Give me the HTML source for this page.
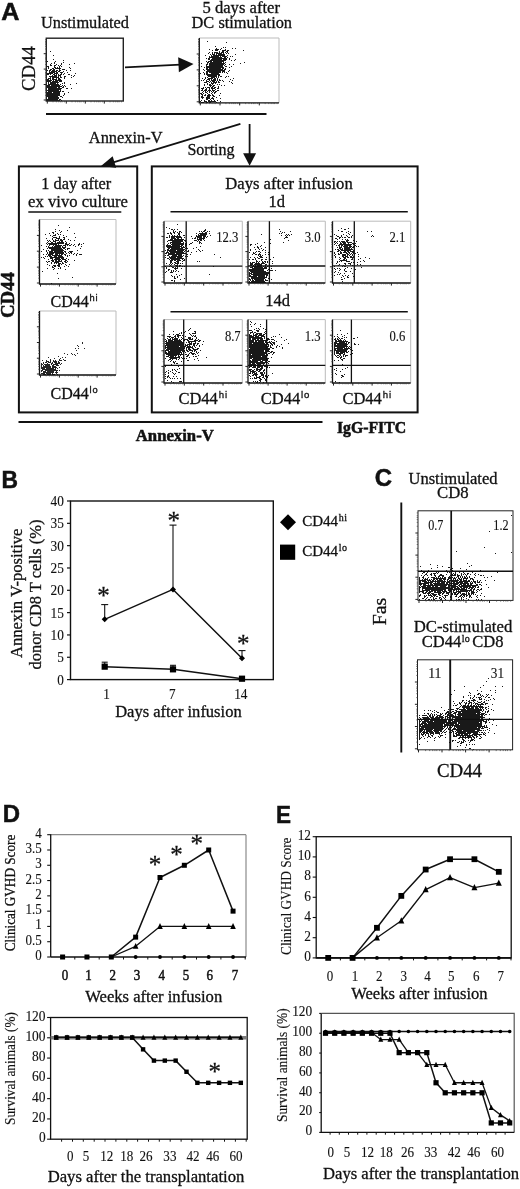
<!DOCTYPE html>
<html lang="en"><head><meta charset="utf-8"><title>Figure</title>
<style>
html,body{margin:0;padding:0;background:#fff}
svg{display:block}
text{font-family:'Liberation Serif', serif;fill:#111;stroke:#111}
text.s{font-family:'Liberation Sans', sans-serif}
tspan.s{font-family:'Liberation Sans', sans-serif}
</style></head><body>
<svg width="520" height="1189" viewBox="0 0 520 1189">
<rect width="520" height="1189" fill="#fff"/>
<g stroke-width="0.3">
<!-- Panel A -->
<text x="1.2" y="20.1" font-size="24" font-weight="bold" stroke-width="0.5" class="s" textLength="18.2" lengthAdjust="spacingAndGlyphs">A</text>
<text x="41" y="27.5" font-size="16.5" textLength="88" lengthAdjust="spacingAndGlyphs">Unstimulated</text>
<text x="241.2" y="13.3" font-size="16.5" text-anchor="middle" textLength="77.5" lengthAdjust="spacingAndGlyphs">5 days after</text>
<text x="241.8" y="27.6" font-size="16.5" text-anchor="middle" textLength="100.5" lengthAdjust="spacingAndGlyphs">DC stimulation</text>
<text x="35" y="68.5" font-size="19" text-anchor="middle" textLength="45" lengthAdjust="spacingAndGlyphs" transform="rotate(-90 35 68.5)">CD44</text>
<path d="M57 84h1M53 98h1M49 93h1M49 100h1M53 90h1M50 93h1M53 100h1M54 79h1M53 94h1M57 92h1M56 95h1M54 87h1M55 92h1M49 90h1M53 89h1M54 86h1M53 92h1M55 100h1M51 96h1M59 94h1M55 89h1M52 100h1M51 89h1M48 96h1M54 99h1M55 86h1M51 100h1M50 94h1M52 93h1M58 90h1M57 94h1M51 91h1M47 93h1M50 96h1M52 85h1M53 93h1M49 99h1M51 82h1M55 97h1M53 96h1M50 97h1M57 100h1M48 93h1M52 95h1M56 88h1M52 91h1M55 87h1M54 89h1M52 99h1M51 87h1M56 92h1M58 85h1M51 93h1M48 100h1M56 85h1M54 77h1M54 100h1M54 84h1M49 88h1M51 85h1M55 91h1M59 95h1M50 80h1M53 99h1M56 100h1M52 82h1M48 95h1M57 88h1M52 86h1M50 82h1M54 88h1M52 89h1M50 100h1M53 83h1M55 95h1M55 88h1M49 81h1M51 88h1M53 82h1M56 90h1M48 97h1M51 95h1M56 98h1M56 96h1M52 83h1M56 93h1M54 91h1M59 85h1M48 82h1M57 86h1M53 88h1M52 98h1M51 94h1M48 90h1M52 96h1M57 95h1M49 87h1M59 89h1M51 97h1M53 91h1M52 94h1M57 89h1M51 83h1M48 92h1M52 90h1M48 91h1M56 89h1M54 95h1M54 94h1M50 81h1M48 94h1M54 82h1M55 98h1M50 90h1M51 98h1M55 90h1M54 98h1M49 94h1M57 97h1M55 82h1M57 91h1M56 84h1M55 96h1M51 99h1M48 85h1M47 85h1M54 85h1M53 95h1M57 77h1M60 90h1M48 98h1M48 88h1M55 84h1M55 93h1M58 89h1M50 91h1M57 93h1M47 86h1M47 92h1M49 97h1M55 85h1M56 91h1M51 90h1M48 99h1M56 94h1M55 99h1M57 99h1M50 99h1M58 97h1M49 96h1M47 96h1M47 94h1M49 92h1M56 99h1M61 96h1M48 80h1M48 89h1M53 97h1M57 98h1M56 86h1M49 85h1M47 100h1M58 86h1M54 93h1M54 92h1M60 88h1M49 98h1M55 81h1M62 85h1M59 86h1M51 92h1M57 85h1M57 96h1M47 95h1M58 94h1M56 82h1M54 96h1M50 95h1M58 100h1M57 82h1M61 86h1M48 83h1M47 99h1M50 89h1M54 90h1M50 98h1M60 99h1M56 97h1M58 92h1M53 85h1M49 86h1M57 83h1M59 100h1M50 92h1M52 81h1M58 95h1M55 94h1M49 95h1M48 81h1M48 87h1M61 100h1M54 97h1M52 84h1M50 88h1M50 86h1M49 89h1M59 87h1M58 98h1M58 91h1M49 78h1M52 76h1M59 93h1M58 93h1M50 84h1M60 86h1M47 87h1M53 87h1M48 86h1M52 78h1M49 84h1M50 87h1M58 87h1M50 83h1M58 84h1M52 97h1M48 84h1M59 88h1M47 90h1M51 86h1M59 91h1M56 80h1M60 91h1M57 81h1M61 88h1M54 69h1M61 80h1M60 72h1M59 78h1M55 73h1M49 72h1M55 75h1M52 88h1M53 81h1M49 91h1M58 77h1M48 78h1M59 71h1M55 76h1M56 68h1M60 65h1M54 81h1M50 72h1M50 77h1M52 77h1M55 67h1M53 71h1M58 68h1M64 83h1M51 80h1M53 79h1M53 74h1M63 91h1M56 64h1M64 82h1M47 66h1M52 71h1M51 69h1M57 80h1M58 75h1M47 81h1M47 74h1M58 74h1M64 93h1M60 75h1M59 80h1M54 74h1M52 73h1M54 75h1M55 83h1M59 67h1M55 79h1M53 72h1M56 77h1M54 73h1M54 71h1M51 73h1M50 74h1M54 63h1M60 96h1M61 74h1M62 91h1M50 79h1M56 70h1M57 73h1M59 75h1M54 67h1M58 65h1M52 72h1M59 66h1M53 78h1M57 70h1M53 68h1M50 64h1M48 79h1M51 76h1M63 74h1M56 78h1M48 66h1M56 76h1M52 70h1M58 88h1M48 73h1M53 84h1M61 77h1M57 72h1M50 78h1M58 78h1M58 79h1M55 68h1M53 77h1M61 81h1M52 68h1M50 70h1M57 68h1M54 65h1M60 89h1M60 76h1M56 72h1M59 99h1M49 76h1M50 51h1M53 76h1M56 73h1M54 72h1M62 87h1M59 69h1M52 79h1M54 76h1M58 82h1M57 67h1M56 87h1M56 75h1M60 80h1M49 80h1M52 75h1M55 71h1M52 87h1M53 69h1M54 66h1M63 86h1M56 81h1M50 73h1M53 86h1M48 68h1M47 80h1M48 74h1M56 74h1M64 85h1M54 70h1M51 71h1M58 80h1M50 65h1M48 67h1M60 81h1M47 79h1M55 65h1M59 70h1M58 71h1M59 92h1M68 92h1M53 80h1M57 90h1M55 61h1M51 72h1M53 55h1M63 62h1M56 71h1M51 63h1M62 97h1M54 83h1M49 70h1M56 79h1M51 65h1M50 69h1M51 84h1M54 62h1M53 59h1M60 79h1M53 70h1M60 68h1M55 77h1M50 76h1M61 64h1M64 94h1M60 84h1M60 70h1M49 73h1M47 61h1M55 80h1M65 86h1M67 88h1M49 71h1M64 77h1M71 77h1M71 75h1M74 63h1M69 67h1M70 70h1M47 73h1M62 83h1M58 76h1M63 95h1M61 72h1M70 68h1M64 76h1M64 73h1M67 72h1M64 78h1M61 63h1M59 81h1M74 75h1M59 68h1M69 74h1M70 84h1M64 69h1M63 69h1M75 73h1M63 71h1M73 76h1M71 88h1M60 77h1M62 69h1M63 87h1M61 66h1M59 79h1M60 74h1M66 88h1M68 74h1M63 60h1M62 72h1M65 76h1M66 70h1M76 83h1M61 73h1M69 64h1M47 70h1" stroke="#000" stroke-width="1" stroke-opacity="0.9" fill="none" shape-rendering="crispEdges"/>
<rect x="46.3" y="38.2" width="77.0" height="62.8" fill="none" stroke="#222" stroke-width="1.4"/>
<path d="M47.3 101v2.6M46.3 100.0h-2.6M66.3 101v2.6M46.3 84.5h-2.6M85.3 101v2.6M46.3 69.1h-2.6M104.3 101v2.6M46.3 53.7h-2.6" stroke="#222" stroke-width="1" fill="none"/>
<path d="M53.0 101v1.3M46.3 95.3h-1.3M56.4 101v1.3M46.3 92.6h-1.3M58.7 101v1.3M46.3 90.7h-1.3M60.6 101v1.3M46.3 89.2h-1.3M62.1 101v1.3M46.3 88.0h-1.3M64.5 101v1.3M46.3 86.0h-1.3M72.0 101v1.3M46.3 79.9h-1.3M75.4 101v1.3M46.3 77.2h-1.3M77.7 101v1.3M46.3 75.2h-1.3M79.6 101v1.3M46.3 73.8h-1.3M81.1 101v1.3M46.3 72.5h-1.3M83.5 101v1.3M46.3 70.6h-1.3M91.0 101v1.3M46.3 64.4h-1.3M94.4 101v1.3M46.3 61.7h-1.3M96.7 101v1.3M46.3 59.8h-1.3M98.6 101v1.3M46.3 58.3h-1.3M100.1 101v1.3M46.3 57.1h-1.3M102.5 101v1.3M46.3 55.1h-1.3M110.0 101v1.3M46.3 49.0h-1.3M113.4 101v1.3M46.3 46.3h-1.3M115.7 101v1.3M46.3 44.3h-1.3M117.6 101v1.3M46.3 42.9h-1.3M119.1 101v1.3M46.3 41.6h-1.3M121.5 101v1.3M46.3 39.7h-1.3" stroke="#444" stroke-width="0.7" fill="none"/>
<path d="M225 64h1M217 63h1M219 71h1M214 70h1M211 72h1M213 67h1M211 63h1M213 85h1M220 64h1M212 64h1M216 64h1M212 65h1M209 58h1M210 68h1M215 63h1M214 62h1M200 73h1M213 57h1M211 68h1M206 68h1M208 78h1M225 56h1M215 64h1M208 75h1M217 78h1M216 76h1M215 72h1M222 56h1M212 78h1M211 67h1M210 66h1M219 64h1M213 61h1M213 56h1M214 73h1M215 69h1M218 77h1M215 66h1M214 61h1M209 64h1M214 65h1M214 68h1M224 54h1M219 60h1M213 62h1M224 69h1M218 57h1M216 60h1M221 48h1M221 52h1M216 59h1M216 63h1M221 63h1M215 59h1M216 72h1M211 62h1M208 59h1M211 60h1M210 71h1M216 67h1M212 60h1M218 61h1M213 69h1M215 60h1M213 58h1M216 57h1M219 80h1M215 46h1M220 62h1M221 70h1M212 72h1M218 62h1M215 67h1M216 65h1M212 63h1M218 70h1M215 68h1M221 59h1M224 50h1M214 72h1M217 65h1M215 71h1M217 62h1M211 80h1M214 69h1M213 59h1M215 55h1M217 58h1M210 60h1M216 70h1M221 57h1M217 74h1M223 52h1M221 67h1M218 63h1M211 64h1M217 53h1M219 72h1M207 69h1M214 71h1M209 68h1M219 61h1M212 73h1M214 54h1M213 55h1M212 67h1M218 68h1M216 73h1M218 56h1M213 64h1M214 78h1M227 55h1M216 49h1M207 70h1M213 66h1M218 67h1M210 74h1M219 53h1M218 64h1M211 55h1M214 66h1M216 75h1M210 63h1M220 68h1M216 68h1M206 71h1M211 61h1M209 66h1M207 67h1M221 69h1M219 54h1M214 58h1M207 75h1M209 52h1M209 56h1M210 57h1M212 66h1M223 55h1M220 67h1M217 70h1M226 59h1M215 76h1M209 76h1M219 58h1M222 60h1M211 71h1M209 65h1M219 68h1M216 56h1M216 58h1M214 76h1M218 66h1M216 62h1M209 71h1M210 69h1M226 51h1M220 66h1M217 67h1M216 69h1M209 75h1M217 60h1M221 66h1M210 76h1M220 69h1M223 54h1M213 71h1M206 69h1M208 58h1M208 67h1M203 72h1M221 65h1M212 69h1M225 59h1M219 52h1M211 66h1M212 68h1M221 58h1M218 60h1M219 62h1M213 73h1M213 77h1M222 66h1M215 73h1M223 68h1M212 83h1M212 54h1M217 66h1M215 49h1M223 67h1M207 64h1M214 56h1M214 52h1M220 65h1M214 67h1M224 57h1M207 63h1M217 59h1M208 69h1M218 69h1M217 72h1M220 59h1M210 72h1M203 69h1M222 64h1M209 59h1M218 71h1M211 56h1M217 69h1M225 47h1M216 61h1M223 62h1M212 59h1M212 71h1M218 65h1M212 62h1M219 59h1M214 64h1M220 60h1M213 72h1M211 59h1M212 53h1M219 65h1M214 60h1M206 65h1M218 49h1M218 54h1M218 58h1M218 74h1M211 69h1M210 70h1M209 67h1M214 74h1M207 62h1M219 55h1M219 66h1M221 76h1M218 55h1M220 72h1M209 61h1M222 52h1M216 54h1M217 52h1M223 56h1M213 63h1M215 65h1M219 69h1M215 79h1M209 63h1M220 58h1M218 53h1M216 55h1M217 68h1M222 50h1M223 53h1M213 65h1M222 69h1M222 70h1M217 71h1M213 80h1M212 81h1M212 84h1M215 62h1M206 73h1M213 60h1M220 49h1M208 61h1M211 70h1M223 70h1M212 70h1M215 70h1M222 51h1M212 74h1M210 64h1M218 72h1M207 83h1M216 66h1M210 65h1M220 57h1M209 74h1M223 58h1M220 76h1M220 61h1M221 53h1M222 58h1M218 75h1M215 57h1M217 61h1M220 70h1M212 58h1M221 60h1M221 64h1M213 54h1M213 70h1M216 53h1M211 75h1M218 59h1M215 52h1M213 75h1M214 77h1M214 55h1M215 61h1M206 61h1M219 63h1M213 68h1M217 57h1M220 56h1M222 71h1M214 59h1M210 54h1M222 55h1M216 52h1M219 67h1M209 69h1M210 62h1M222 63h1M215 56h1M204 67h1M216 50h1M223 51h1M219 70h1M212 56h1M215 74h1M205 78h1M207 66h1M219 51h1M204 70h1M212 75h1M222 67h1M209 70h1M211 74h1M206 58h1M221 55h1M207 68h1M219 57h1M206 67h1M215 50h1M222 68h1M212 57h1M221 61h1M209 78h1M217 64h1M206 74h1M218 73h1M225 58h1M217 79h1M224 63h1M220 63h1M217 55h1M224 59h1M227 50h1M208 62h1M224 65h1M226 66h1M222 61h1M220 71h1M215 58h1M210 67h1M214 63h1M211 57h1M207 74h1M213 76h1M221 54h1M206 81h1M207 72h1M208 71h1M222 65h1M223 60h1M225 57h1M217 73h1M213 74h1M209 57h1M211 65h1M206 72h1M215 75h1M225 66h1M216 81h1M214 53h1M224 60h1M215 78h1M221 62h1M207 73h1M216 71h1M216 74h1M213 79h1M224 70h1M210 61h1M214 75h1M223 63h1M217 56h1M214 57h1M212 52h1M206 64h1M220 55h1M208 66h1M206 82h1M213 91h1M215 89h1M216 77h1M214 88h1M213 99h1M216 91h1M204 73h1M209 95h1M209 72h1M202 92h1M209 90h1M211 82h1M208 76h1M219 79h1M204 85h1M204 82h1M210 86h1M215 101h1M219 82h1M207 96h1M213 86h1M202 102h1M215 92h1M217 84h1M211 91h1M215 82h1M211 79h1M207 71h1M212 87h1M205 82h1M211 83h1M211 73h1M213 82h1M208 95h1M211 76h1M218 87h1M214 82h1M210 78h1M214 79h1M210 85h1M209 85h1M207 81h1M214 80h1M212 92h1M207 79h1M212 94h1M201 93h1M211 87h1M202 88h1M203 88h1M202 96h1M211 88h1M209 79h1M201 66h1M208 70h1M214 85h1M208 90h1M205 87h1M220 98h1M206 66h1M202 90h1M211 78h1M209 102h1M212 80h1M202 94h1M215 91h1M202 97h1M221 85h1M208 79h1M208 101h1M208 74h1M203 97h1M210 81h1M209 94h1M211 85h1M213 83h1M212 90h1M209 84h1M208 87h1M206 80h1M213 88h1M209 88h1M220 80h1M219 74h1M206 90h1M204 90h1M208 81h1M201 102h1M209 89h1M213 96h1M215 87h1M219 75h1M217 88h1M211 77h1M214 81h1M212 95h1M202 89h1M210 84h1M217 80h1M214 87h1M207 98h1M205 95h1M206 89h1M212 86h1M204 74h1M210 101h1M210 95h1M209 87h1M212 97h1M204 79h1M218 86h1M209 80h1M213 81h1M209 97h1M207 84h1M216 82h1M207 87h1M202 78h1M217 90h1M224 85h1M215 80h1M212 76h1M212 88h1M206 88h1M209 92h1M215 83h1M201 80h1M203 80h1M218 88h1M209 82h1M201 88h1M219 84h1M210 90h1M218 82h1M218 81h1M205 90h1M214 90h1M218 76h1M204 84h1M205 77h1M207 77h1M212 77h1M214 96h1M218 90h1M212 89h1M229 59h1M232 48h1M223 59h1M232 80h1M235 54h1M217 50h1M217 49h1M230 56h1M227 51h1M225 69h1M227 73h1M224 55h1M226 56h1M228 53h1M226 76h1M229 67h1M229 58h1M225 49h1M232 56h1M233 78h1M244 62h1M222 80h1M224 58h1M230 79h1M216 48h1M223 50h1M228 50h1M223 81h1M225 68h1M225 62h1M209 49h1M224 56h1M212 50h1M205 55h1M225 77h1M234 60h1M231 82h1M231 66h1M226 42h1M240 63h1M227 57h1M223 71h1M232 83h1M225 60h1M235 59h1M220 53h1M222 72h1M222 54h1M226 53h1M227 52h1M229 81h1M207 41h1M224 72h1M223 61h1M229 70h1M220 54h1M223 47h1M243 50h1M201 63h1M210 75h1M228 71h1M233 64h1M208 53h1M231 60h1M226 58h1M223 64h1M225 52h1M228 76h1M226 72h1M224 71h1M235 48h1M225 50h1M229 64h1M208 96h1M211 98h1M206 102h1M209 101h1M209 96h1M210 99h1M220 93h1M206 92h1M208 94h1M205 92h1M207 97h1M209 98h1M213 98h1M212 98h1M202 95h1M205 101h1M207 102h1M204 101h1M211 100h1M211 93h1M207 99h1M216 102h1M214 100h1M217 100h1M209 91h1M214 101h1M212 101h1M208 100h1M207 95h1M214 92h1M201 100h1M206 97h1M201 97h1M211 101h1M208 97h1M219 95h1M203 91h1M200 101h1M206 101h1M216 97h1M206 98h1M201 90h1M220 101h1M204 95h1M200 93h1M203 87h1M203 93h1M213 95h1M203 102h1M209 100h1M207 93h1M201 94h1M214 93h1M205 89h1M206 99h1M202 98h1M201 96h1M204 100h1M205 94h1M205 91h1M207 91h1M210 102h1M213 101h1M208 98h1M213 90h1" stroke="#000" stroke-width="1" stroke-opacity="0.9" fill="none" shape-rendering="crispEdges"/>
<path d="M199.3 38H279V102.8" fill="none" stroke="#bbb" stroke-width="1.0"/>
<path d="M199.3 38V102.8H279" fill="none" stroke="#111" stroke-width="1.3"/>
<path d="M200.3 102.8v2.6M199.3 101.8h-2.6M220.0 102.8v2.6M199.3 85.8h-2.6M239.7 102.8v2.6M199.3 69.9h-2.6M259.3 102.8v2.6M199.3 54.0h-2.6" stroke="#222" stroke-width="1" fill="none"/>
<path d="M206.2 102.8v1.3M199.3 97.0h-1.3M209.7 102.8v1.3M199.3 94.2h-1.3M212.1 102.8v1.3M199.3 92.2h-1.3M214.1 102.8v1.3M199.3 90.7h-1.3M215.6 102.8v1.3M199.3 89.4h-1.3M218.1 102.8v1.3M199.3 87.4h-1.3M225.9 102.8v1.3M199.3 81.0h-1.3M229.4 102.8v1.3M199.3 78.2h-1.3M231.8 102.8v1.3M199.3 76.2h-1.3M233.7 102.8v1.3M199.3 74.7h-1.3M235.3 102.8v1.3M199.3 73.4h-1.3M237.7 102.8v1.3M199.3 71.4h-1.3M245.6 102.8v1.3M199.3 65.1h-1.3M249.0 102.8v1.3M199.3 62.3h-1.3M251.5 102.8v1.3M199.3 60.3h-1.3M253.4 102.8v1.3M199.3 58.8h-1.3M255.0 102.8v1.3M199.3 57.5h-1.3M257.4 102.8v1.3M199.3 55.5h-1.3M265.2 102.8v1.3M199.3 49.1h-1.3M268.7 102.8v1.3M199.3 46.3h-1.3M271.2 102.8v1.3M199.3 44.3h-1.3M273.1 102.8v1.3M199.3 42.8h-1.3M274.6 102.8v1.3M199.3 41.5h-1.3M277.1 102.8v1.3M199.3 39.5h-1.3" stroke="#444" stroke-width="0.7" fill="none"/>
<line x1="125" y1="67.3" x2="180.52" y2="64.63" stroke="#111" stroke-width="1.8"/>
<polygon points="193.5,64 178.88,72.21 178.16,57.23" fill="#111" stroke="none" stroke-width="1"/>
<line x1="46" y1="114" x2="266.5" y2="114" stroke="#111" stroke-width="1.8"/>
<line x1="240.4" y1="123.9" x2="112.49" y2="162.53" stroke="#111" stroke-width="1.8"/>
<polygon points="101,166 112.67,156.21 116.14,167.7" fill="#111" stroke="none" stroke-width="1"/>
<line x1="249.6" y1="124" x2="249.6" y2="155.3" stroke="#111" stroke-width="1.8"/>
<polygon points="249.6,165.8 243.1,153.3 256.1,153.3" fill="#111" stroke="none" stroke-width="1"/>
<text x="88.8" y="143.2" font-size="16.5" textLength="73.7" lengthAdjust="spacingAndGlyphs">Annexin-V</text>
<text x="187.4" y="155.2" font-size="16.5" textLength="47.2" lengthAdjust="spacingAndGlyphs">Sorting</text>
<rect x="18.9" y="166.4" width="118.3" height="246.0" fill="none" stroke="#111" stroke-width="2"/>
<rect x="151.8" y="166.4" width="265.8" height="246.0" fill="none" stroke="#111" stroke-width="2"/>
<text x="76.2" y="188.8" font-size="16.5" text-anchor="middle" textLength="69.8" lengthAdjust="spacingAndGlyphs">1 day after</text>
<text x="78" y="207" font-size="16.5" text-anchor="middle" textLength="99.8" lengthAdjust="spacingAndGlyphs">ex vivo culture</text>
<line x1="28.3" y1="212" x2="121.3" y2="212" stroke="#111" stroke-width="1.6"/>
<path d="M57 240h1M52 242h1M55 252h1M65 249h1M56 244h1M62 250h1M59 258h1M55 254h1M51 262h1M49 252h1M56 253h1M57 261h1M56 248h1M60 257h1M55 266h1M54 268h1M50 241h1M47 244h1M58 252h1M59 246h1M61 252h1M54 255h1M52 250h1M53 241h1M48 259h1M52 267h1M65 269h1M64 266h1M61 256h1M56 255h1M59 259h1M56 247h1M63 242h1M54 248h1M54 237h1M57 252h1M56 257h1M66 265h1M41 251h1M61 254h1M55 234h1M67 244h1M54 259h1M58 257h1M52 260h1M54 241h1M55 262h1M60 249h1M60 240h1M56 251h1M56 259h1M60 239h1M55 256h1M53 253h1M49 247h1M57 259h1M46 250h1M59 257h1M61 250h1M53 252h1M59 248h1M53 247h1M61 251h1M55 253h1M60 246h1M52 247h1M54 256h1M62 243h1M53 249h1M59 255h1M56 245h1M48 247h1M50 247h1M53 245h1M53 255h1M55 231h1M57 233h1M47 268h1M61 245h1M55 250h1M48 255h1M52 252h1M60 250h1M58 256h1M55 249h1M55 240h1M53 235h1M53 237h1M57 247h1M60 255h1M52 266h1M62 256h1M54 250h1M65 264h1M58 253h1M59 264h1M55 243h1M64 237h1M53 250h1M56 261h1M50 244h1M58 251h1M62 258h1M59 250h1M56 246h1M57 248h1M58 234h1M55 242h1M59 253h1M54 247h1M60 243h1M52 246h1M58 258h1M61 248h1M51 257h1M58 262h1M60 256h1M57 262h1M59 265h1M61 243h1M55 239h1M52 251h1M62 240h1M62 259h1M50 251h1M51 242h1M57 250h1M55 247h1M58 246h1M55 235h1M58 239h1M62 257h1M49 240h1M51 251h1M46 243h1M58 264h1M63 250h1M52 255h1M60 242h1M59 242h1M56 250h1M49 254h1M52 261h1M57 246h1M61 242h1M54 262h1M60 247h1M62 252h1M46 254h1M63 263h1M61 255h1M57 258h1M63 235h1M67 261h1M57 265h1M51 263h1M57 245h1M45 256h1M57 249h1M64 259h1M46 246h1M60 245h1M63 239h1M49 251h1M66 253h1M55 237h1M61 261h1M53 243h1M59 247h1M62 242h1M56 252h1M63 237h1M63 247h1M55 248h1M49 253h1M63 258h1M64 238h1M50 255h1M55 257h1M51 243h1M65 252h1M55 246h1M59 238h1M51 250h1M56 256h1M56 249h1M52 254h1M60 263h1M55 259h1M63 245h1M58 248h1M49 248h1M59 261h1M50 254h1M58 260h1M55 244h1M48 243h1M55 260h1M55 265h1M47 253h1M53 244h1M53 260h1M52 236h1M57 255h1M52 259h1M62 241h1M58 255h1M53 269h1M50 243h1M58 250h1M58 268h1M54 257h1M65 251h1M54 243h1M52 239h1M52 244h1M51 248h1M58 245h1M61 253h1M51 260h1M60 253h1M52 243h1M52 257h1M55 245h1M59 254h1M59 230h1M58 249h1M53 248h1M51 252h1M58 259h1M46 251h1M55 241h1M47 248h1M56 254h1M62 247h1M65 244h1M59 256h1M62 246h1M55 251h1M49 245h1M55 255h1M59 252h1M50 252h1M56 263h1M65 260h1M49 244h1M53 240h1M56 240h1M58 243h1M62 251h1M68 248h1M62 262h1M60 261h1M55 229h1M66 242h1M65 259h1M52 249h1M47 256h1M62 254h1M61 241h1M59 251h1M52 248h1M53 233h1M47 264h1M50 258h1M52 232h1M67 249h1M53 261h1M56 237h1M61 257h1M57 242h1M63 257h1M45 234h1M61 260h1M56 260h1M63 252h1M61 239h1M56 243h1M57 257h1M58 240h1M58 244h1M65 255h1M58 242h1M52 238h1M59 249h1M49 265h1M49 243h1M48 246h1M51 258h1M59 260h1M44 258h1M62 263h1M47 252h1M57 254h1M47 240h1M60 234h1M50 253h1M54 246h1M55 261h1M62 253h1M60 232h1M69 245h1M58 263h1M68 244h1M68 239h1M64 239h1M69 255h1M54 244h1M64 248h1M58 261h1M64 245h1M58 225h1M51 244h1M56 262h1M65 262h1M57 251h1M63 248h1M58 247h1M54 265h1M51 247h1M54 235h1M57 243h1M43 254h1M55 258h1M61 231h1M69 251h1M59 263h1M68 259h1M58 266h1M50 235h1M60 267h1M65 254h1M59 266h1M60 252h1M52 253h1M54 263h1M54 252h1M53 267h1M59 245h1M54 251h1M61 258h1M56 258h1M57 238h1M43 249h1M51 254h1M61 264h1M61 240h1M58 265h1M56 238h1M66 243h1M47 242h1M51 249h1M65 247h1M65 246h1M54 249h1M59 241h1M62 249h1M60 251h1M60 259h1M48 261h1M76 255h1M42 271h1M66 244h1M64 261h1M43 257h1M50 248h1M46 261h1M60 248h1M53 232h1M66 260h1M74 253h1M71 251h1M48 250h1M59 237h1M51 256h1M67 248h1M41 257h1M65 261h1M67 256h1M63 253h1M50 257h1M73 254h1M57 273h1M69 243h1M41 245h1M71 244h1M69 253h1M68 266h1M70 252h1M49 256h1M53 265h1M69 248h1M72 277h1M48 254h1M60 268h1M77 253h1M54 266h1M51 283h1M66 258h1M50 256h1M67 245h1M63 259h1M47 262h1M57 253h1M61 249h1M49 233h1M69 264h1M53 257h1M58 278h1M81 244h1M59 243h1M59 236h1M46 238h1M67 255h1M65 243h1M67 230h1M69 227h1M64 251h1M49 255h1M58 238h1M63 243h1M49 261h1M64 254h1M71 253h1M68 252h1M66 262h1M48 241h1M65 245h1M64 247h1M52 258h1M66 236h1M51 253h1M81 254h1M70 240h1M80 254h1M76 254h1M75 246h1M79 254h1M70 245h1M74 240h1M71 252h1M65 241h1M81 246h1M74 260h1M70 251h1M83 243h1M73 245h1M78 245h1M72 251h1M79 244h1M74 233h1M77 250h1M79 243h1M75 237h1M80 248h1M78 244h1M74 244h1" stroke="#000" stroke-width="1" stroke-opacity="0.9" fill="none" shape-rendering="crispEdges"/>
<path d="M39.5 219.5H116V284" fill="none" stroke="#bbb" stroke-width="1.0"/>
<path d="M39.5 219.5V284H116" fill="none" stroke="#111" stroke-width="1.3"/>
<path d="M40.5 284v2.6M39.5 283.0h-2.6M59.4 284v2.6M39.5 267.1h-2.6M78.2 284v2.6M39.5 251.2h-2.6M97.1 284v2.6M39.5 235.4h-2.6" stroke="#222" stroke-width="1" fill="none"/>
<path d="M46.2 284v1.3M39.5 278.2h-1.3M49.5 284v1.3M39.5 275.4h-1.3M51.9 284v1.3M39.5 273.4h-1.3M53.7 284v1.3M39.5 271.9h-1.3M55.2 284v1.3M39.5 270.6h-1.3M57.5 284v1.3M39.5 268.7h-1.3M65.1 284v1.3M39.5 262.3h-1.3M68.4 284v1.3M39.5 259.6h-1.3M70.7 284v1.3M39.5 257.6h-1.3M72.6 284v1.3M39.5 256.0h-1.3M74.1 284v1.3M39.5 254.8h-1.3M76.4 284v1.3M39.5 252.8h-1.3M83.9 284v1.3M39.5 246.5h-1.3M87.3 284v1.3M39.5 243.7h-1.3M89.6 284v1.3M39.5 241.7h-1.3M91.4 284v1.3M39.5 240.2h-1.3M92.9 284v1.3M39.5 238.9h-1.3M95.3 284v1.3M39.5 236.9h-1.3M102.8 284v1.3M39.5 230.6h-1.3M106.1 284v1.3M39.5 227.8h-1.3M108.5 284v1.3M39.5 225.8h-1.3M110.3 284v1.3M39.5 224.3h-1.3M111.8 284v1.3M39.5 223.0h-1.3M114.2 284v1.3M39.5 221.0h-1.3" stroke="#444" stroke-width="0.7" fill="none"/>
<text x="74.5" y="306.5" font-size="16" text-anchor="middle">CD44<tspan class="s" font-size="9.3" dx="0.8" dy="-5.4" letter-spacing="0.9">hi</tspan></text>
<path d="M48 367h1M46 367h1M52 367h1M55 372h1M48 371h1M45 369h1M49 367h1M50 361h1M52 374h1M49 371h1M46 364h1M47 374h1M47 372h1M44 371h1M48 370h1M48 362h1M45 371h1M47 365h1M45 364h1M43 372h1M45 367h1M51 368h1M47 364h1M50 369h1M53 372h1M49 366h1M49 370h1M45 372h1M53 370h1M53 367h1M47 366h1M49 368h1M42 368h1M52 363h1M50 362h1M42 369h1M41 366h1M55 370h1M41 364h1M43 369h1M51 370h1M49 373h1M48 368h1M50 368h1M49 372h1M52 369h1M47 370h1M48 357h1M52 366h1M53 369h1M48 365h1M52 368h1M48 361h1M50 372h1M48 366h1M49 362h1M53 371h1M50 374h1M46 368h1M56 373h1M50 373h1M44 373h1M47 361h1M59 370h1M47 369h1M50 370h1M54 369h1M44 372h1M48 374h1M41 365h1M44 367h1M46 370h1M43 373h1M48 372h1M45 365h1M44 366h1M43 362h1M46 372h1M47 368h1M44 368h1M52 365h1M45 374h1M45 362h1M52 362h1M41 370h1M53 374h1M56 372h1M54 364h1M47 371h1M43 371h1M57 374h1M45 370h1M54 370h1M41 367h1M46 373h1M52 371h1M42 373h1M57 372h1M51 364h1M44 369h1M51 371h1M53 361h1M50 367h1M43 374h1M56 370h1M46 360h1M46 366h1M57 364h1M43 367h1M50 371h1M58 365h1M43 366h1M49 369h1M50 359h1M57 370h1M41 373h1M42 370h1M47 373h1M46 369h1M51 372h1M43 365h1M45 366h1M56 367h1M59 367h1M49 364h1M41 368h1M51 363h1M55 369h1M42 364h1M53 366h1M46 365h1M56 371h1M41 363h1M54 366h1M43 368h1M46 362h1M48 373h1M57 368h1M48 364h1M46 361h1M53 364h1M59 363h1M44 374h1M56 362h1M55 368h1M42 360h1M51 369h1M50 360h1M50 366h1M52 373h1M53 365h1M42 367h1M47 367h1M44 364h1M41 371h1M52 372h1M43 363h1M47 363h1M49 374h1M49 365h1M53 368h1M54 374h1M48 369h1M52 370h1M60 358h1M58 356h1M59 359h1M60 364h1M58 362h1M55 367h1M53 360h1M56 364h1M58 363h1M58 361h1M59 362h1M61 360h1M54 358h1M55 360h1M55 366h1M65 360h1M57 363h1M56 363h1M55 361h1M54 367h1M55 364h1M56 365h1M56 361h1M55 362h1M54 362h1M64 360h1M82 343h1M82 342h1M57 365h1M75 348h1M61 363h1M55 363h1M77 345h1M74 354h1M60 360h1M75 355h1M72 354h1M77 353h1M78 346h1M71 353h1M59 360h1M62 357h1M76 350h1M84 348h1M64 353h1M67 354h1M63 359h1M78 348h1M54 361h1M65 357h1" stroke="#000" stroke-width="1" stroke-opacity="0.85" fill="none" shape-rendering="crispEdges"/>
<path d="M39.5 311H116V375" fill="none" stroke="#bbb" stroke-width="1.0"/>
<path d="M39.5 311V375H116" fill="none" stroke="#111" stroke-width="1.3"/>
<path d="M40.5 375v2.6M39.5 374.0h-2.6M59.4 375v2.6M39.5 358.2h-2.6M78.2 375v2.6M39.5 342.5h-2.6M97.1 375v2.6M39.5 326.8h-2.6" stroke="#222" stroke-width="1" fill="none"/>
<path d="M46.2 375v1.3M39.5 369.3h-1.3M49.5 375v1.3M39.5 366.5h-1.3M51.9 375v1.3M39.5 364.5h-1.3M53.7 375v1.3M39.5 363.0h-1.3M55.2 375v1.3M39.5 361.7h-1.3M57.5 375v1.3M39.5 359.8h-1.3M65.1 375v1.3M39.5 353.5h-1.3M68.4 375v1.3M39.5 350.7h-1.3M70.7 375v1.3M39.5 348.8h-1.3M72.6 375v1.3M39.5 347.2h-1.3M74.1 375v1.3M39.5 346.0h-1.3M76.4 375v1.3M39.5 344.0h-1.3M83.9 375v1.3M39.5 337.8h-1.3M87.3 375v1.3M39.5 335.0h-1.3M89.6 375v1.3M39.5 333.0h-1.3M91.4 375v1.3M39.5 331.5h-1.3M92.9 375v1.3M39.5 330.2h-1.3M95.3 375v1.3M39.5 328.3h-1.3M102.8 375v1.3M39.5 322.0h-1.3M106.1 375v1.3M39.5 319.2h-1.3M108.5 375v1.3M39.5 317.3h-1.3M110.3 375v1.3M39.5 315.7h-1.3M111.8 375v1.3M39.5 314.5h-1.3M114.2 375v1.3M39.5 312.5h-1.3" stroke="#444" stroke-width="0.7" fill="none"/>
<text x="74.5" y="398.5" font-size="16" text-anchor="middle">CD44<tspan class="s" font-size="9.3" dx="0.8" dy="-5.4" letter-spacing="0.9">lo</tspan></text>
<text x="14.2" y="295" font-size="18.5" text-anchor="middle" font-weight="bold" stroke-width="0.55" textLength="46" lengthAdjust="spacingAndGlyphs" transform="rotate(-90 14.2 295)">CD44</text>
<line x1="18.5" y1="422" x2="322.5" y2="422" stroke="#111" stroke-width="1.8"/>
<text x="174.8" y="441.3" font-size="16.5" text-anchor="middle" font-weight="bold" stroke-width="0.55" textLength="78" lengthAdjust="spacingAndGlyphs">Annexin-V</text>
<text x="371.5" y="433" font-size="16" text-anchor="middle" font-weight="bold" stroke-width="0.55" textLength="69" lengthAdjust="spacingAndGlyphs">IgG-FITC</text>
<text x="289" y="188.5" font-size="16.5" text-anchor="middle" textLength="127.5" lengthAdjust="spacingAndGlyphs">Days after infusion</text>
<text x="276.8" y="206.7" font-size="16.5" text-anchor="middle">1d</text>
<line x1="170.5" y1="211.7" x2="407.8" y2="211.7" stroke="#111" stroke-width="1.5"/>
<text x="277.5" y="305.6" font-size="16.5" text-anchor="middle">14d</text>
<line x1="170.5" y1="311.7" x2="407.8" y2="311.7" stroke="#111" stroke-width="1.5"/>
<path d="M171 257h1M179 266h1M175 265h1M181 247h1M182 252h1M178 251h1M173 247h1M171 251h1M179 248h1M174 232h1M176 253h1M177 252h1M174 251h1M185 248h1M177 243h1M185 250h1M173 230h1M170 251h1M179 231h1M172 267h1M179 252h1M174 245h1M177 246h1M174 239h1M182 248h1M174 243h1M178 256h1M174 241h1M176 251h1M177 249h1M176 263h1M184 247h1M172 241h1M177 248h1M181 232h1M178 237h1M185 256h1M169 251h1M182 241h1M178 263h1M186 244h1M179 245h1M169 259h1M171 234h1M172 250h1M175 244h1M178 246h1M171 272h1M181 249h1M173 245h1M169 256h1M172 246h1M185 243h1M175 267h1M171 258h1M180 244h1M181 237h1M175 241h1M184 249h1M181 250h1M169 248h1M172 248h1M174 246h1M167 233h1M182 251h1M171 238h1M177 260h1M172 259h1M172 240h1M175 240h1M173 231h1M173 256h1M181 248h1M176 237h1M168 245h1M171 259h1M175 263h1M171 237h1M180 257h1M187 251h1M171 250h1M180 236h1M181 252h1M174 260h1M177 258h1M174 255h1M172 258h1M170 245h1M177 237h1M175 250h1M173 248h1M178 247h1M176 247h1M172 247h1M172 255h1M177 232h1M180 248h1M182 239h1M175 247h1M175 251h1M167 258h1M178 258h1M171 254h1M187 254h1M173 253h1M176 249h1M180 242h1M170 260h1M173 243h1M177 242h1M180 250h1M185 253h1M173 252h1M180 241h1M173 246h1M178 262h1M175 231h1M177 254h1M176 244h1M180 249h1M172 254h1M172 257h1M176 252h1M176 255h1M174 240h1M176 259h1M179 247h1M167 244h1M180 255h1M183 247h1M171 244h1M174 259h1M167 247h1M173 244h1M178 252h1M174 235h1M183 243h1M174 256h1M174 236h1M171 247h1M179 240h1M177 251h1M177 235h1M178 259h1M191 252h1M178 253h1M170 263h1M175 252h1M173 232h1M179 244h1M177 247h1M170 254h1M180 251h1M182 245h1M180 240h1M167 249h1M170 252h1M176 239h1M176 236h1M174 249h1M176 241h1M175 259h1M181 243h1M180 254h1M173 237h1M183 246h1M176 245h1M182 250h1M176 242h1M179 258h1M179 256h1M176 256h1M176 246h1M167 246h1M173 254h1M174 248h1M177 245h1M178 243h1M176 240h1M186 245h1M169 236h1M166 245h1M181 241h1M174 238h1M167 237h1M174 244h1M175 260h1M178 244h1M171 264h1M173 255h1M183 244h1M165 255h1M177 241h1M175 248h1M177 229h1M181 256h1M179 243h1M178 241h1M167 251h1M180 246h1M178 238h1M178 257h1M178 248h1M178 249h1M179 251h1M171 240h1M170 261h1M179 259h1M167 250h1M169 250h1M184 251h1M182 249h1M171 246h1M179 237h1M168 253h1M177 261h1M172 249h1M174 253h1M171 236h1M179 241h1M166 268h1M175 245h1M172 229h1M180 239h1M177 264h1M177 253h1M179 255h1M179 234h1M175 242h1M171 252h1M177 244h1M172 244h1M177 239h1M174 247h1M168 258h1M171 249h1M176 258h1M180 260h1M177 266h1M183 242h1M167 252h1M170 262h1M180 252h1M178 242h1M178 260h1M172 243h1M175 249h1M170 233h1M174 254h1M168 249h1M170 246h1M181 244h1M168 240h1M173 251h1M172 245h1M179 260h1M170 243h1M173 240h1M168 250h1M174 250h1M182 244h1M179 257h1M170 240h1M178 239h1M167 255h1M184 259h1M168 247h1M181 239h1M170 232h1M171 262h1M168 246h1M179 254h1M170 242h1M181 268h1M178 255h1M177 250h1M166 253h1M180 243h1M182 243h1M179 239h1M175 262h1M176 248h1M187 256h1M181 258h1M178 240h1M175 236h1M177 262h1M168 269h1M187 248h1M167 241h1M182 266h1M176 254h1M178 236h1M171 248h1M166 252h1M186 247h1M183 258h1M180 237h1M180 265h1M177 236h1M180 258h1M168 255h1M180 253h1M166 227h1M175 243h1M174 262h1M181 246h1M183 249h1M170 253h1M175 238h1M179 246h1M177 259h1M172 239h1M173 249h1M171 242h1M178 250h1M186 248h1M172 263h1M171 229h1M180 256h1M179 236h1M173 241h1M173 242h1M179 232h1M172 252h1M174 252h1M177 268h1M172 253h1M177 265h1M175 256h1M174 264h1M169 228h1M185 245h1M179 249h1M181 254h1M172 237h1M178 245h1M170 249h1M171 261h1M170 247h1M169 247h1M175 257h1M178 234h1M184 253h1M170 257h1M172 242h1M171 233h1M183 252h1M178 233h1M173 250h1M179 250h1M178 254h1M168 254h1M169 237h1M169 246h1M171 253h1M169 245h1M181 245h1M176 266h1M184 240h1M181 238h1M172 236h1M182 263h1M177 263h1M175 239h1M182 240h1M182 258h1M172 260h1M169 254h1M173 258h1M176 265h1M185 240h1M188 251h1M169 240h1M174 242h1M185 241h1M169 264h1M177 256h1M177 238h1M180 263h1M181 257h1M172 251h1M174 258h1M176 243h1M175 255h1M179 242h1M181 253h1M170 258h1M165 250h1M182 256h1M172 238h1M169 266h1M166 237h1M168 243h1M172 235h1M182 259h1M175 258h1M169 253h1M165 257h1M173 257h1M186 243h1M179 253h1M167 245h1M175 246h1M181 251h1M173 236h1M170 250h1M174 257h1M174 237h1M185 244h1M182 253h1M168 248h1M183 235h1M183 255h1M185 246h1M176 261h1M186 254h1M183 260h1M179 265h1M182 247h1M175 254h1M174 233h1M171 256h1M184 266h1M184 235h1M181 240h1M168 252h1M180 231h1M168 233h1M179 233h1M172 256h1M183 239h1M181 255h1M169 235h1M188 250h1M183 250h1M184 260h1M165 266h1M171 266h1M177 224h1M178 261h1M182 261h1M177 257h1M186 242h1M177 240h1M174 229h1M173 238h1M179 235h1M171 260h1M166 246h1M177 267h1M169 257h1M183 253h1M173 259h1M165 253h1M171 239h1M170 239h1M186 266h1M171 270h1M180 279h1M174 268h1M172 272h1M176 270h1M171 275h1M184 278h1M172 276h1M174 277h1M177 276h1M171 280h1M172 280h1M173 270h1M166 263h1M178 271h1M176 274h1M175 271h1M170 265h1M168 270h1M170 272h1M173 271h1M181 274h1M175 278h1M174 280h1M175 269h1M174 281h1M173 267h1M174 276h1M166 267h1M165 272h1M171 271h1M179 275h1M177 277h1M176 268h1M169 269h1M166 271h1M174 278h1M175 268h1M205 232h1M205 233h1M198 236h1M198 239h1M194 238h1M205 236h1M200 239h1M202 232h1M201 234h1M203 235h1M203 238h1M200 235h1M203 231h1M200 237h1M200 236h1M198 240h1M202 238h1M201 235h1M201 233h1M202 234h1M206 234h1M197 238h1M204 236h1M198 235h1M209 233h1M204 230h1M199 237h1M201 238h1M207 236h1M201 237h1M201 236h1M198 237h1M204 233h1M200 234h1M209 231h1M207 231h1M204 234h1M200 240h1M204 235h1M203 233h1M203 236h1M197 241h1M197 236h1M206 233h1M195 238h1M199 236h1M196 233h1M196 236h1M200 238h1M203 234h1M204 240h1M202 233h1M205 230h1M205 229h1M197 239h1M197 237h1M204 238h1M199 238h1M201 239h1M199 233h1M203 237h1M201 240h1M203 239h1M202 235h1M201 231h1M195 240h1M199 235h1M198 234h1M205 234h1M204 237h1M199 239h1M205 235h1M195 237h1M204 231h1M206 232h1M196 235h1M200 233h1M199 231h1M199 241h1M190 254h1M192 238h1M200 242h1M196 251h1M189 244h1M184 237h1M192 242h1M199 243h1M199 250h1M190 243h1M191 236h1M202 250h1M200 246h1M199 242h1M191 243h1M206 237h1M196 247h1M210 235h1M196 240h1M194 240h1M201 243h1M193 248h1M199 261h1M209 274h1M213 266h1M214 254h1M220 257h1M198 249h1M200 251h1M197 261h1" stroke="#000" stroke-width="1" stroke-opacity="0.9" fill="none" shape-rendering="crispEdges"/>
<path d="M164 221.2H242.3V283" fill="none" stroke="#bbb" stroke-width="1.0"/>
<path d="M164 221.2V283H242.3" fill="none" stroke="#111" stroke-width="1.3"/>
<path d="M165.0 283v2.6M164 282.0h-2.6M184.3 283v2.6M164 266.8h-2.6M203.7 283v2.6M164 251.6h-2.6M223.0 283v2.6M164 236.4h-2.6" stroke="#222" stroke-width="1" fill="none"/>
<path d="M170.8 283v1.3M164 277.4h-1.3M174.2 283v1.3M164 274.7h-1.3M176.6 283v1.3M164 272.8h-1.3M178.5 283v1.3M164 271.4h-1.3M180.0 283v1.3M164 270.2h-1.3M182.5 283v1.3M164 268.3h-1.3M190.1 283v1.3M164 262.2h-1.3M193.5 283v1.3M164 259.5h-1.3M196.0 283v1.3M164 257.6h-1.3M197.8 283v1.3M164 256.2h-1.3M199.4 283v1.3M164 255.0h-1.3M201.8 283v1.3M164 253.1h-1.3M209.5 283v1.3M164 247.0h-1.3M212.9 283v1.3M164 244.3h-1.3M215.3 283v1.3M164 242.4h-1.3M217.2 283v1.3M164 241.0h-1.3M218.7 283v1.3M164 239.8h-1.3M221.1 283v1.3M164 237.9h-1.3M228.8 283v1.3M164 231.8h-1.3M232.2 283v1.3M164 229.1h-1.3M234.6 283v1.3M164 227.2h-1.3M236.5 283v1.3M164 225.8h-1.3M238.0 283v1.3M164 224.6h-1.3M240.4 283v1.3M164 222.7h-1.3" stroke="#444" stroke-width="0.7" fill="none"/>
<line x1="186.2" y1="221.2" x2="186.2" y2="283" stroke="#111" stroke-width="1.3"/>
<line x1="164" y1="266.2" x2="242.3" y2="266.2" stroke="#111" stroke-width="1.3"/>
<text x="238.3" y="242.2" font-size="14" text-anchor="end" textLength="22.1" lengthAdjust="spacingAndGlyphs" stroke-width="0.12">12.3</text>
<path d="M260 282h1M258 265h1M258 282h1M252 266h1M256 263h1M257 279h1M251 276h1M260 267h1M259 278h1M260 278h1M264 268h1M259 279h1M260 271h1M255 277h1M263 276h1M259 265h1M251 263h1M262 277h1M253 281h1M262 282h1M258 277h1M255 276h1M256 268h1M254 267h1M262 275h1M260 277h1M258 271h1M266 274h1M257 273h1M257 280h1M266 277h1M255 278h1M261 256h1M271 268h1M259 274h1M253 269h1M257 261h1M256 279h1M249 282h1M259 280h1M251 272h1M256 272h1M257 278h1M250 273h1M258 272h1M262 268h1M255 270h1M249 270h1M253 274h1M263 277h1M260 272h1M254 282h1M249 269h1M254 277h1M258 275h1M258 264h1M259 266h1M262 281h1M261 260h1M259 281h1M258 269h1M260 269h1M262 276h1M256 275h1M256 267h1M261 282h1M253 280h1M263 266h1M263 269h1M266 280h1M261 277h1M255 281h1M266 268h1M255 272h1M253 275h1M265 264h1M261 269h1M257 271h1M255 267h1M257 264h1M262 278h1M253 270h1M259 264h1M257 265h1M255 275h1M255 280h1M256 276h1M258 267h1M259 271h1M263 268h1M255 271h1M261 273h1M263 272h1M252 272h1M261 278h1M261 281h1M256 282h1M251 282h1M263 275h1M259 267h1M262 269h1M260 266h1M259 273h1M263 271h1M259 272h1M254 278h1M251 273h1M256 271h1M250 264h1M250 267h1M261 268h1M258 263h1M265 261h1M259 268h1M256 273h1M258 273h1M256 277h1M256 269h1M261 267h1M269 279h1M258 266h1M265 271h1M262 271h1M252 263h1M255 269h1M253 277h1M250 282h1M260 275h1M265 279h1M257 270h1M251 265h1M252 280h1M259 275h1M250 275h1M258 262h1M257 281h1M253 282h1M257 277h1M255 274h1M264 275h1M249 272h1M250 271h1M251 278h1M261 276h1M267 273h1M272 270h1M256 264h1M253 268h1M264 267h1M262 267h1M253 272h1M263 273h1M259 276h1M269 274h1M255 279h1M256 274h1M251 274h1M257 269h1M261 272h1M251 271h1M252 264h1M260 268h1M267 272h1M262 279h1M256 280h1M260 279h1M264 277h1M264 276h1M257 274h1M258 274h1M261 279h1M252 274h1M260 276h1M249 275h1M264 281h1M259 269h1M258 276h1M252 279h1M255 273h1M254 269h1M267 274h1M263 281h1M252 269h1M255 266h1M251 277h1M254 272h1M258 279h1M254 279h1M253 266h1M249 279h1M251 264h1M253 278h1M260 280h1M266 275h1M257 263h1M261 263h1M258 268h1M261 280h1M265 280h1M269 282h1M260 274h1M253 276h1M254 266h1M250 270h1M256 266h1M260 273h1M254 274h1M252 278h1M261 275h1M262 273h1M264 278h1M260 265h1M267 280h1M257 267h1M271 270h1M256 278h1M255 259h1M250 279h1M254 273h1M265 272h1M253 265h1M268 278h1M254 281h1M267 262h1M263 280h1M256 262h1M250 265h1M256 261h1M258 281h1M258 270h1M252 268h1M254 275h1M252 259h1M253 259h1M263 282h1M252 262h1M249 273h1M265 274h1M249 281h1M262 272h1M259 270h1M258 278h1M250 276h1M265 273h1M257 272h1M259 263h1M260 281h1M257 268h1M264 271h1M252 282h1M255 265h1M251 281h1M265 268h1M258 280h1M271 279h1M259 277h1M262 270h1M256 270h1M252 281h1M254 268h1M252 267h1M252 271h1M262 262h1M270 270h1M255 268h1M265 277h1M265 282h1M253 271h1M261 270h1M269 281h1M262 274h1M266 267h1M264 273h1M261 266h1M257 275h1M252 276h1M264 274h1M263 270h1M265 266h1M253 262h1M266 272h1M259 282h1M252 277h1M249 276h1M266 273h1M268 272h1M267 270h1M251 267h1M251 269h1M259 261h1M271 266h1M253 273h1M256 281h1M257 282h1M255 282h1M250 262h1M265 267h1M265 265h1M250 280h1M254 270h1M263 278h1M260 264h1M275 270h1M249 274h1M255 264h1M264 282h1M255 263h1M260 270h1M254 271h1M254 264h1M258 258h1M267 275h1M269 278h1M261 274h1M250 269h1M261 271h1M268 269h1M263 274h1M254 276h1M262 280h1M249 278h1M252 270h1M256 260h1M263 279h1M250 250h1M257 243h1M261 257h1M265 250h1M257 257h1M262 259h1M265 252h1M254 262h1M262 261h1M259 254h1M262 255h1M254 253h1M258 251h1M259 256h1M256 254h1M268 254h1M266 264h1M268 273h1M263 262h1M260 256h1M255 258h1M258 247h1M264 242h1M250 245h1M263 263h1M262 257h1M255 252h1M258 254h1M263 249h1M264 272h1M260 257h1M265 262h1M251 244h1M265 254h1M265 247h1M260 254h1M254 247h1M259 251h1M259 253h1M264 261h1M255 244h1M253 253h1M262 263h1M261 265h1M266 257h1M261 245h1M258 248h1M253 252h1M257 246h1M260 246h1M257 247h1M261 234h1M255 249h1M254 257h1M261 248h1M249 259h1M262 250h1M250 249h1M250 257h1M249 252h1M257 266h1M260 255h1M267 266h1M264 263h1M258 255h1M270 243h1M250 244h1M252 254h1M259 249h1M265 259h1M256 251h1M270 259h1M255 254h1M281 235h1M287 235h1M291 234h1M285 235h1M290 231h1M286 236h1M283 242h1M287 237h1M289 235h1M281 233h1M285 237h1M288 240h1M288 234h1M286 234h1M284 232h1M286 237h1M280 231h1M284 238h1M279 233h1M279 229h1M282 232h1M251 270h1M267 261h1M261 259h1M272 263h1M273 257h1M260 252h1M250 263h1M272 261h1M266 276h1M266 259h1M259 258h1M268 252h1M270 239h1M261 264h1" stroke="#000" stroke-width="1" stroke-opacity="0.9" fill="none" shape-rendering="crispEdges"/>
<path d="M248 221.2H325.3V283" fill="none" stroke="#bbb" stroke-width="1.0"/>
<path d="M248 221.2V283H325.3" fill="none" stroke="#111" stroke-width="1.3"/>
<path d="M249.0 283v2.6M248 282.0h-2.6M268.1 283v2.6M248 266.8h-2.6M287.1 283v2.6M248 251.6h-2.6M306.2 283v2.6M248 236.4h-2.6" stroke="#222" stroke-width="1" fill="none"/>
<path d="M254.7 283v1.3M248 277.4h-1.3M258.1 283v1.3M248 274.7h-1.3M260.5 283v1.3M248 272.8h-1.3M262.3 283v1.3M248 271.4h-1.3M263.8 283v1.3M248 270.2h-1.3M266.2 283v1.3M248 268.3h-1.3M273.8 283v1.3M248 262.2h-1.3M277.2 283v1.3M248 259.5h-1.3M279.6 283v1.3M248 257.6h-1.3M281.4 283v1.3M248 256.2h-1.3M282.9 283v1.3M248 255.0h-1.3M285.3 283v1.3M248 253.1h-1.3M292.9 283v1.3M248 247.0h-1.3M296.3 283v1.3M248 244.3h-1.3M298.6 283v1.3M248 242.4h-1.3M300.5 283v1.3M248 241.0h-1.3M302.0 283v1.3M248 239.8h-1.3M304.4 283v1.3M248 237.9h-1.3M312.0 283v1.3M248 231.8h-1.3M315.3 283v1.3M248 229.1h-1.3M317.7 283v1.3M248 227.2h-1.3M319.6 283v1.3M248 225.8h-1.3M321.1 283v1.3M248 224.6h-1.3M323.5 283v1.3M248 222.7h-1.3" stroke="#444" stroke-width="0.7" fill="none"/>
<line x1="269.4" y1="221.2" x2="269.4" y2="283" stroke="#111" stroke-width="1.3"/>
<line x1="248" y1="266" x2="325.3" y2="266" stroke="#111" stroke-width="1.3"/>
<text x="320.5" y="242.2" font-size="14" text-anchor="end" textLength="15.8" lengthAdjust="spacingAndGlyphs" stroke-width="0.12">3.0</text>
<path d="M344 245h1M344 251h1M340 251h1M351 246h1M350 247h1M347 248h1M336 242h1M348 245h1M336 263h1M340 253h1M347 249h1M348 254h1M347 246h1M341 236h1M348 240h1M342 255h1M343 250h1M348 247h1M343 256h1M342 239h1M341 247h1M347 261h1M345 239h1M334 252h1M344 255h1M348 249h1M337 243h1M349 242h1M353 246h1M346 259h1M343 259h1M352 265h1M337 247h1M353 244h1M335 269h1M347 255h1M339 241h1M351 248h1M346 246h1M337 239h1M350 245h1M335 254h1M349 263h1M344 241h1M338 236h1M348 250h1M347 244h1M346 240h1M341 252h1M351 249h1M340 242h1M353 252h1M338 250h1M352 257h1M352 259h1M341 244h1M351 242h1M346 245h1M344 247h1M349 245h1M356 246h1M343 252h1M345 242h1M343 246h1M355 269h1M339 247h1M347 247h1M343 244h1M346 253h1M358 246h1M342 250h1M344 249h1M334 253h1M339 250h1M350 242h1M353 262h1M334 241h1M349 261h1M344 248h1M349 248h1M345 237h1M351 251h1M360 258h1M350 251h1M346 244h1M337 261h1M348 257h1M340 260h1M352 243h1M353 256h1M345 258h1M349 237h1M340 237h1M350 250h1M335 238h1M344 254h1M353 257h1M351 237h1M353 250h1M341 241h1M346 248h1M353 251h1M349 247h1M342 249h1M352 249h1M354 254h1M350 264h1M339 264h1M351 259h1M345 250h1M345 254h1M346 235h1M345 245h1M338 253h1M351 262h1M342 241h1M349 249h1M339 261h1M342 242h1M342 256h1M341 261h1M344 258h1M347 267h1M347 254h1M335 243h1M344 266h1M340 247h1M343 243h1M349 244h1M347 239h1M334 242h1M352 251h1M343 234h1M336 245h1M358 256h1M349 234h1M350 256h1M345 247h1M344 257h1M343 242h1M346 256h1M341 228h1M351 244h1M334 244h1M354 246h1M335 241h1M352 235h1M338 254h1M343 257h1M356 241h1M339 259h1M354 241h1M355 243h1M334 255h1M341 250h1M345 255h1M345 248h1M344 259h1M347 241h1M347 250h1M347 257h1M335 249h1M340 243h1M339 270h1M339 237h1M343 260h1M341 245h1M348 248h1M353 243h1M345 244h1M350 257h1M344 243h1M343 241h1M348 242h1M344 229h1M345 229h1M350 249h1M339 248h1M347 240h1M346 249h1M344 244h1M339 254h1M345 260h1M343 265h1M344 260h1M355 245h1M351 256h1M344 263h1M348 263h1M335 257h1M342 260h1M348 244h1M353 240h1M339 257h1M345 249h1M348 261h1M338 249h1M349 246h1M344 270h1M340 249h1M346 260h1M345 256h1M344 250h1M341 260h1M343 255h1M342 248h1M348 252h1M357 252h1M351 268h1M348 231h1M351 257h1M346 232h1M348 243h1M341 235h1M354 249h1M346 252h1M352 254h1M349 253h1M341 243h1M342 231h1M345 243h1M336 235h1M352 258h1M337 262h1M351 253h1M345 251h1M347 251h1M340 248h1M342 237h1M349 250h1M343 254h1M340 252h1M347 245h1M348 233h1M341 249h1M360 264h1M344 246h1M335 256h1M345 257h1M339 244h1M342 244h1M347 253h1M340 244h1M355 253h1M346 250h1M353 247h1M350 254h1M336 238h1M350 263h1M337 251h1M353 253h1M339 246h1M342 254h1M340 258h1M338 251h1M342 245h1M352 252h1M349 255h1M337 249h1M341 246h1M347 236h1M341 231h1M346 241h1M338 265h1M348 228h1M346 247h1M350 246h1M354 259h1M343 276h1M349 252h1M350 232h1M344 242h1M339 238h1M347 256h1M337 236h1M347 242h1M337 241h1M345 266h1M344 237h1M352 255h1M358 254h1M339 245h1M348 251h1M341 253h1M345 252h1M348 237h1M345 246h1M352 247h1M338 230h1M357 264h1M350 244h1M345 264h1M344 252h1M351 236h1M334 234h1M338 245h1M345 263h1M337 274h1M350 271h1M341 279h1M338 272h1M346 271h1M344 273h1M348 275h1M339 268h1M342 275h1M339 274h1M345 271h1M335 271h1M342 279h1M345 275h1M340 269h1M348 277h1M344 278h1M353 276h1M347 277h1M346 261h1M334 275h1M341 277h1M352 273h1M334 268h1M347 276h1M342 266h1M342 281h1M334 266h1M337 268h1M344 269h1M345 268h1M334 272h1M354 278h1M340 273h1M372 235h1M373 236h1M371 236h1M367 231h1M371 231h1M358 259h1M365 257h1M361 267h1M369 258h1M363 260h1M364 261h1M357 262h1M360 261h1" stroke="#000" stroke-width="1" stroke-opacity="0.9" fill="none" shape-rendering="crispEdges"/>
<path d="M332.5 221.2H410.7V283" fill="none" stroke="#bbb" stroke-width="1.0"/>
<path d="M332.5 221.2V283H410.7" fill="none" stroke="#111" stroke-width="1.3"/>
<path d="M333.5 283v2.6M332.5 282.0h-2.6M352.8 283v2.6M332.5 266.8h-2.6M372.1 283v2.6M332.5 251.6h-2.6M391.4 283v2.6M332.5 236.4h-2.6" stroke="#222" stroke-width="1" fill="none"/>
<path d="M339.3 283v1.3M332.5 277.4h-1.3M342.7 283v1.3M332.5 274.7h-1.3M345.1 283v1.3M332.5 272.8h-1.3M347.0 283v1.3M332.5 271.4h-1.3M348.5 283v1.3M332.5 270.2h-1.3M350.9 283v1.3M332.5 268.3h-1.3M358.6 283v1.3M332.5 262.2h-1.3M362.0 283v1.3M332.5 259.5h-1.3M364.4 283v1.3M332.5 257.6h-1.3M366.3 283v1.3M332.5 256.2h-1.3M367.8 283v1.3M332.5 255.0h-1.3M370.2 283v1.3M332.5 253.1h-1.3M377.9 283v1.3M332.5 247.0h-1.3M381.3 283v1.3M332.5 244.3h-1.3M383.7 283v1.3M332.5 242.4h-1.3M385.6 283v1.3M332.5 241.0h-1.3M387.1 283v1.3M332.5 239.8h-1.3M389.5 283v1.3M332.5 237.9h-1.3M397.2 283v1.3M332.5 231.8h-1.3M400.6 283v1.3M332.5 229.1h-1.3M403.0 283v1.3M332.5 227.2h-1.3M404.9 283v1.3M332.5 225.8h-1.3M406.4 283v1.3M332.5 224.6h-1.3M408.8 283v1.3M332.5 222.7h-1.3" stroke="#444" stroke-width="0.7" fill="none"/>
<line x1="354.3" y1="221.2" x2="354.3" y2="283" stroke="#111" stroke-width="1.3"/>
<line x1="332.5" y1="265.9" x2="410.7" y2="265.9" stroke="#111" stroke-width="1.3"/>
<text x="405.3" y="242.2" font-size="14" text-anchor="end" textLength="15.8" lengthAdjust="spacingAndGlyphs" stroke-width="0.12">2.1</text>
<path d="M176 334h1M179 342h1M177 345h1M177 348h1M171 352h1M169 346h1M177 338h1M177 347h1M166 341h1M172 346h1M173 331h1M180 345h1M169 342h1M171 341h1M168 347h1M179 352h1M175 346h1M179 350h1M178 335h1M168 352h1M177 350h1M169 339h1M179 341h1M179 343h1M171 360h1M177 353h1M175 345h1M169 349h1M182 343h1M167 348h1M175 344h1M178 347h1M174 342h1M168 340h1M176 350h1M168 360h1M176 339h1M174 347h1M174 352h1M176 343h1M175 342h1M170 346h1M171 350h1M176 346h1M178 344h1M169 340h1M176 348h1M176 347h1M170 343h1M174 348h1M176 351h1M175 348h1M181 349h1M180 348h1M179 335h1M172 347h1M170 351h1M178 343h1M168 344h1M173 353h1M171 344h1M174 344h1M173 356h1M173 348h1M171 343h1M183 340h1M174 354h1M173 351h1M175 341h1M174 355h1M180 347h1M180 352h1M185 354h1M175 343h1M166 352h1M181 344h1M170 357h1M166 347h1M172 357h1M182 345h1M171 349h1M180 343h1M169 351h1M177 354h1M174 345h1M171 340h1M178 340h1M179 348h1M178 345h1M183 352h1M176 338h1M172 348h1M171 345h1M169 345h1M167 353h1M165 339h1M178 342h1M173 350h1M166 345h1M182 354h1M179 344h1M178 353h1M173 346h1M181 353h1M172 352h1M178 356h1M173 355h1M172 343h1M172 344h1M173 352h1M176 344h1M170 344h1M174 350h1M177 340h1M167 350h1M170 338h1M175 347h1M172 342h1M170 352h1M172 338h1M168 353h1M165 353h1M172 340h1M179 349h1M177 349h1M175 357h1M173 347h1M167 338h1M170 341h1M172 350h1M176 341h1M182 338h1M169 344h1M169 352h1M178 348h1M180 350h1M171 347h1M175 352h1M173 349h1M178 341h1M169 355h1M175 356h1M177 352h1M172 351h1M170 342h1M179 340h1M174 351h1M169 334h1M182 347h1M166 342h1M186 347h1M165 346h1M165 343h1M174 339h1M174 346h1M179 345h1M169 343h1M174 341h1M176 340h1M176 355h1M179 354h1M167 347h1M165 348h1M170 358h1M182 358h1M176 354h1M175 339h1M172 354h1M174 340h1M179 358h1M168 342h1M177 344h1M178 354h1M169 347h1M183 357h1M170 348h1M172 349h1M177 342h1M184 350h1M175 358h1M168 350h1M172 353h1M175 350h1M181 339h1M171 346h1M176 345h1M165 352h1M178 351h1M183 355h1M170 349h1M171 355h1M175 349h1M170 347h1M170 355h1M175 351h1M175 355h1M172 345h1M174 336h1M166 354h1M180 354h1M166 349h1M177 341h1M177 343h1M176 352h1M170 336h1M173 354h1M170 350h1M170 353h1M165 351h1M172 341h1M180 355h1M181 345h1M168 349h1M175 337h1M173 342h1M180 351h1M177 335h1M173 343h1M171 358h1M166 344h1M168 354h1M173 345h1M178 352h1M181 346h1M168 336h1M171 337h1M181 348h1M174 358h1M176 353h1M181 350h1M176 349h1M170 361h1M180 349h1M178 346h1M169 337h1M173 357h1M166 353h1M169 359h1M170 356h1M173 344h1M171 342h1M168 355h1M180 346h1M181 343h1M173 337h1M172 339h1M181 337h1M179 347h1M178 350h1M174 353h1M178 357h1M166 343h1M181 341h1M183 344h1M167 345h1M174 349h1M165 347h1M175 353h1M168 356h1M178 337h1M167 346h1M181 347h1M168 346h1M171 351h1M168 351h1M165 341h1M178 349h1M169 341h1M167 343h1M181 333h1M167 356h1M177 346h1M177 339h1M178 334h1M174 343h1M173 341h1M175 338h1M175 340h1M179 356h1M173 339h1M185 352h1M168 339h1M171 353h1M175 354h1M181 342h1M181 354h1M168 348h1M181 352h1M184 339h1M171 348h1M183 349h1M170 354h1M180 340h1M169 353h1M182 351h1M170 345h1M171 357h1M178 355h1M180 344h1M166 350h1M177 351h1M166 356h1M166 340h1M187 360h1M167 354h1M187 356h1M186 345h1M180 342h1M169 348h1M184 346h1M169 336h1M174 362h1M188 351h1M167 342h1M171 354h1M177 334h1M170 340h1M174 338h1M181 357h1M171 356h1M168 343h1M179 333h1M172 358h1M180 335h1M170 339h1M179 357h1M180 341h1M179 353h1M183 348h1M182 348h1M175 336h1M173 358h1M178 336h1M177 357h1M182 349h1M176 357h1M182 346h1M183 343h1M168 341h1M173 334h1M167 336h1M172 337h1M179 339h1M179 351h1M175 335h1M165 358h1M184 351h1M167 344h1M168 345h1M173 361h1M172 359h1M174 357h1M184 348h1M182 344h1M182 350h1M178 359h1M176 342h1M186 348h1M167 349h1M165 345h1M181 361h1M177 336h1M172 355h1M172 356h1M177 363h1M167 377h1M179 368h1M180 378h1M169 377h1M168 365h1M172 372h1M179 372h1M174 374h1M165 365h1M172 369h1M165 366h1M168 370h1M168 376h1M166 371h1M176 376h1M180 381h1M167 380h1M174 378h1M167 376h1M178 366h1M176 371h1M165 372h1M177 369h1M178 372h1M171 381h1M174 369h1M171 364h1M168 375h1M177 378h1M165 376h1M175 370h1M168 372h1M168 373h1M173 373h1M170 378h1M181 381h1M170 371h1M179 381h1M173 382h1M172 378h1M165 378h1M165 374h1M175 373h1M173 376h1M193 341h1M197 353h1M194 359h1M195 354h1M182 342h1M186 339h1M198 341h1M187 344h1M187 345h1M185 345h1M192 350h1M193 353h1M186 349h1M198 343h1M193 335h1M185 346h1M194 345h1M187 347h1M189 344h1M193 348h1M196 338h1M189 348h1M192 351h1M188 348h1M195 350h1M198 352h1M188 341h1M195 339h1M196 356h1M194 351h1M187 351h1M194 343h1M189 329h1M194 341h1M189 337h1M190 341h1M191 341h1M190 346h1M188 347h1M192 338h1M190 349h1M190 350h1M195 340h1M189 346h1M192 348h1M187 350h1M184 340h1M187 346h1M198 360h1M189 357h1M194 346h1M188 355h1M185 339h1M191 343h1M196 349h1M190 352h1M188 344h1M197 348h1M188 340h1M183 346h1M188 354h1M190 344h1M195 341h1M191 353h1M194 344h1M190 343h1M194 331h1M188 349h1M188 337h1M189 349h1M195 335h1M189 338h1M198 355h1M196 337h1M192 354h1M197 349h1M195 333h1M189 333h1M185 331h1M203 341h1M191 352h1M185 344h1M202 344h1M197 340h1M197 344h1M195 331h1M190 334h1M191 347h1M181 332h1M192 336h1M184 332h1M192 339h1M195 347h1M197 358h1M191 350h1M189 342h1M186 358h1M193 345h1M194 336h1M206 357h1M194 333h1M190 347h1M193 349h1M192 347h1M189 345h1M184 347h1M188 342h1M187 355h1M193 333h1M190 328h1M200 340h1M196 340h1M189 347h1M187 340h1M191 335h1M193 356h1M186 350h1M189 343h1M193 344h1M186 356h1M189 353h1M188 360h1M190 339h1M189 341h1M185 336h1M199 345h1M196 352h1M184 358h1M183 345h1M188 330h1M193 354h1M193 343h1M194 350h1M195 342h1M198 339h1M196 345h1M188 338h1M186 342h1M192 341h1M195 343h1M191 344h1M199 346h1M196 351h1M186 354h1M192 353h1M191 342h1M200 350h1M195 349h1M190 337h1M194 349h1M199 341h1M189 339h1M194 340h1M192 346h1M195 336h1M182 335h1M189 350h1M183 342h1M195 356h1M199 340h1M195 332h1M187 339h1M192 333h1M198 348h1M191 339h1M190 338h1M188 346h1M194 353h1M183 336h1M197 343h1M173 365h1M176 363h1M172 370h1M173 362h1M174 363h1M175 361h1M176 358h1M170 359h1M169 354h1M169 357h1M176 359h1M165 350h1" stroke="#000" stroke-width="1" stroke-opacity="0.9" fill="none" shape-rendering="crispEdges"/>
<path d="M164 319.6H242.3V383" fill="none" stroke="#bbb" stroke-width="1.0"/>
<path d="M164 319.6V383H242.3" fill="none" stroke="#111" stroke-width="1.3"/>
<path d="M165.0 383v2.6M164 382.0h-2.6M184.3 383v2.6M164 366.4h-2.6M203.7 383v2.6M164 350.8h-2.6M223.0 383v2.6M164 335.2h-2.6" stroke="#222" stroke-width="1" fill="none"/>
<path d="M170.8 383v1.3M164 377.3h-1.3M174.2 383v1.3M164 374.6h-1.3M176.6 383v1.3M164 372.6h-1.3M178.5 383v1.3M164 371.1h-1.3M180.0 383v1.3M164 369.9h-1.3M182.5 383v1.3M164 367.9h-1.3M190.1 383v1.3M164 361.7h-1.3M193.5 383v1.3M164 359.0h-1.3M196.0 383v1.3M164 357.0h-1.3M197.8 383v1.3M164 355.5h-1.3M199.4 383v1.3M164 354.3h-1.3M201.8 383v1.3M164 352.3h-1.3M209.5 383v1.3M164 346.1h-1.3M212.9 383v1.3M164 343.4h-1.3M215.3 383v1.3M164 341.4h-1.3M217.2 383v1.3M164 339.9h-1.3M218.7 383v1.3M164 338.7h-1.3M221.1 383v1.3M164 336.7h-1.3M228.8 383v1.3M164 330.5h-1.3M232.2 383v1.3M164 327.8h-1.3M234.6 383v1.3M164 325.8h-1.3M236.5 383v1.3M164 324.3h-1.3M238.0 383v1.3M164 323.1h-1.3M240.4 383v1.3M164 321.1h-1.3" stroke="#444" stroke-width="0.7" fill="none"/>
<line x1="183.7" y1="319.6" x2="183.7" y2="383" stroke="#111" stroke-width="1.3"/>
<line x1="164" y1="365.4" x2="242.3" y2="365.4" stroke="#111" stroke-width="1.3"/>
<text x="240.7" y="340.6" font-size="14" text-anchor="end" textLength="15.8" lengthAdjust="spacingAndGlyphs" stroke-width="0.12">8.7</text>
<path d="M252 348h1M264 337h1M263 350h1M259 352h1M250 354h1M262 348h1M255 359h1M257 355h1M257 346h1M250 351h1M252 360h1M263 344h1M260 356h1M249 353h1M258 351h1M261 353h1M266 345h1M268 348h1M256 357h1M261 341h1M258 347h1M256 353h1M255 366h1M252 350h1M258 341h1M260 347h1M257 369h1M257 357h1M260 352h1M255 354h1M249 340h1M255 353h1M255 323h1M260 350h1M253 370h1M258 339h1M254 360h1M257 353h1M251 336h1M252 355h1M249 336h1M257 348h1M258 357h1M259 340h1M261 338h1M263 336h1M251 352h1M253 351h1M251 347h1M271 357h1M260 345h1M253 353h1M254 346h1M254 329h1M268 339h1M256 347h1M262 367h1M254 352h1M263 345h1M249 346h1M257 358h1M259 353h1M255 364h1M262 357h1M258 348h1M254 351h1M258 356h1M250 347h1M255 347h1M250 348h1M254 324h1M260 342h1M253 360h1M256 356h1M252 354h1M265 351h1M251 362h1M257 339h1M259 362h1M265 348h1M267 351h1M256 359h1M253 354h1M252 345h1M258 354h1M255 343h1M259 360h1M258 336h1M265 329h1M258 369h1M249 334h1M256 344h1M260 348h1M266 348h1M261 347h1M259 329h1M252 359h1M263 360h1M258 358h1M262 349h1M261 355h1M257 368h1M262 346h1M257 349h1M255 350h1M267 355h1M255 344h1M259 355h1M266 336h1M256 334h1M250 337h1M252 356h1M251 337h1M254 347h1M256 341h1M252 357h1M254 348h1M253 346h1M260 341h1M260 338h1M254 355h1M250 346h1M258 367h1M257 356h1M252 352h1M264 349h1M249 347h1M266 354h1M257 351h1M257 331h1M258 345h1M259 338h1M249 355h1M262 356h1M262 340h1M254 345h1M260 340h1M262 358h1M265 349h1M263 349h1M262 359h1M264 358h1M257 345h1M258 343h1M261 337h1M259 346h1M260 353h1M252 332h1M249 338h1M259 358h1M264 352h1M269 361h1M261 346h1M264 359h1M260 351h1M255 345h1M256 335h1M253 345h1M251 348h1M260 355h1M255 355h1M251 364h1M249 345h1M262 352h1M261 335h1M263 352h1M261 350h1M263 346h1M253 335h1M254 349h1M260 339h1M262 353h1M254 356h1M263 355h1M267 348h1M256 358h1M264 344h1M254 369h1M249 351h1M254 367h1M256 328h1M260 354h1M266 363h1M255 336h1M264 345h1M250 349h1M258 342h1M253 341h1M258 365h1M257 343h1M258 346h1M255 356h1M254 353h1M271 343h1M267 362h1M256 342h1M264 346h1M255 362h1M258 364h1M253 356h1M249 361h1M253 357h1M258 363h1M251 355h1M255 360h1M263 354h1M261 349h1M265 353h1M268 349h1M251 351h1M250 352h1M264 338h1M270 352h1M253 367h1M259 356h1M264 332h1M266 362h1M251 342h1M259 365h1M267 342h1M252 337h1M261 345h1M254 357h1M257 337h1M259 347h1M256 349h1M249 350h1M258 337h1M266 352h1M250 350h1M250 343h1M257 344h1M266 351h1M249 354h1M252 347h1M256 343h1M260 358h1M263 335h1M254 354h1M261 351h1M252 349h1M249 358h1M258 362h1M265 361h1M254 350h1M257 347h1M264 366h1M256 345h1M262 350h1M262 361h1M265 346h1M261 336h1M253 358h1M249 341h1M259 350h1M264 356h1M256 350h1M254 338h1M259 342h1M250 356h1M250 344h1M256 363h1M252 351h1M253 350h1M253 349h1M249 344h1M253 340h1M256 354h1M258 353h1M257 334h1M256 360h1M249 357h1M259 348h1M257 352h1M250 332h1M262 341h1M257 361h1M265 357h1M258 344h1M258 349h1M261 343h1M251 357h1M262 351h1M254 361h1M268 345h1M253 362h1M258 331h1M251 356h1M261 334h1M255 352h1M263 342h1M255 357h1M257 359h1M263 343h1M249 359h1M251 365h1M251 346h1M259 334h1M258 340h1M253 343h1M256 348h1M250 341h1M255 334h1M259 345h1M254 359h1M259 349h1M250 358h1M261 348h1M249 339h1M265 358h1M263 341h1M260 335h1M250 321h1M251 350h1M270 347h1M265 341h1M258 359h1M259 333h1M257 364h1M259 371h1M254 339h1M265 333h1M264 355h1M250 363h1M250 353h1M255 340h1M251 349h1M263 328h1M253 361h1M249 349h1M254 342h1M268 346h1M264 369h1M266 358h1M255 338h1M271 339h1M267 340h1M259 357h1M260 359h1M261 358h1M250 330h1M256 361h1M253 342h1M255 339h1M261 363h1M249 335h1M249 343h1M251 345h1M252 363h1M250 360h1M262 347h1M258 355h1M263 363h1M256 351h1M256 346h1M253 355h1M262 354h1M263 357h1M255 351h1M257 338h1M255 346h1M250 340h1M264 343h1M260 346h1M250 355h1M258 360h1M249 356h1M252 353h1M254 366h1M254 337h1M259 344h1M258 352h1M255 341h1M264 348h1M260 349h1M256 340h1M261 367h1M271 352h1M262 342h1M255 361h1M249 342h1M252 342h1M266 350h1M254 344h1M260 360h1M255 367h1M250 324h1M267 358h1M263 347h1M258 338h1M262 336h1M256 352h1M265 331h1M250 335h1M260 344h1M252 344h1M249 337h1M250 345h1M255 349h1M260 357h1M256 336h1M264 334h1M260 324h1M250 333h1M263 353h1M264 363h1M259 363h1M261 344h1M251 369h1M256 362h1M266 359h1M262 338h1M253 347h1M264 354h1M271 347h1M261 354h1M253 352h1M262 355h1M266 355h1M253 339h1M261 357h1M259 364h1M257 350h1M265 359h1M267 347h1M264 360h1M260 343h1M262 339h1M257 354h1M260 333h1M252 340h1M261 342h1M258 333h1M265 352h1M262 345h1M251 341h1M253 372h1M263 340h1M266 361h1M253 363h1M257 362h1M258 350h1M259 366h1M259 351h1M261 352h1M255 374h1M257 374h1M267 359h1M257 366h1M251 343h1M265 366h1M253 348h1M257 365h1M250 336h1M253 364h1M264 336h1M257 342h1M265 344h1M255 335h1M258 335h1M271 351h1M258 330h1M250 361h1M249 362h1M252 367h1M252 361h1M255 342h1M249 364h1M250 357h1M262 362h1M271 344h1M262 366h1M262 335h1M259 354h1M261 339h1M265 342h1M272 354h1M267 349h1M253 336h1M265 347h1M256 355h1M261 340h1M267 338h1M263 356h1M265 362h1M252 341h1M251 361h1M267 344h1M250 339h1M263 362h1M257 340h1M252 338h1M258 366h1M267 343h1M256 370h1M259 341h1M254 362h1M254 365h1M249 330h1M253 359h1M250 338h1M263 351h1M260 337h1M250 364h1M260 326h1M251 353h1M252 331h1M250 372h1M266 334h1M259 369h1M263 358h1M261 333h1M256 330h1M251 330h1M249 352h1M249 360h1M266 349h1M255 365h1M254 343h1M252 362h1M261 361h1M268 351h1M260 365h1M254 335h1M266 342h1M258 328h1M265 356h1M267 346h1M257 333h1M270 343h1M268 358h1M263 348h1M267 367h1M251 358h1M257 367h1M259 343h1M263 376h1M255 348h1M262 360h1M260 363h1M263 334h1M264 362h1M268 350h1M257 363h1M255 337h1M267 350h1M253 366h1M250 362h1M259 335h1M255 332h1M253 334h1M256 337h1M261 366h1M266 360h1M252 336h1M262 377h1M262 363h1M255 358h1M266 353h1M249 365h1M260 364h1M268 363h1M256 333h1M264 353h1M269 351h1M254 358h1M268 353h1M257 336h1M270 345h1M262 343h1M251 332h1M265 340h1M253 337h1M249 363h1M259 359h1M265 345h1M255 373h1M252 339h1M265 360h1M261 372h1M251 335h1M263 359h1M260 334h1M265 355h1M269 367h1M269 349h1M260 362h1M261 368h1M265 350h1M250 370h1M274 343h1M251 326h1M254 374h1M251 344h1M270 342h1M259 337h1M252 364h1M266 357h1M250 342h1M260 361h1M261 365h1M261 362h1M261 359h1M266 347h1M255 371h1M252 346h1M257 360h1M267 360h1M253 333h1M264 347h1M254 332h1M250 366h1M257 330h1M260 369h1M253 344h1M251 322h1M263 364h1M262 344h1M263 371h1M260 372h1M256 338h1M268 361h1M253 338h1M249 370h1M251 340h1M259 367h1M265 375h1M265 376h1M250 369h1M255 375h1M264 373h1M254 371h1M264 372h1M260 379h1M263 375h1M262 374h1M253 381h1M259 370h1M259 377h1M268 375h1M259 382h1M264 370h1M252 373h1M252 378h1M257 382h1M261 374h1M250 371h1M249 367h1M260 381h1M249 366h1M256 372h1M261 379h1M258 371h1M265 379h1M261 373h1M260 380h1M261 375h1M262 373h1M249 369h1M264 357h1M256 373h1M257 377h1M256 377h1M252 370h1M264 365h1M266 368h1M261 369h1M254 373h1M259 380h1M256 378h1M252 375h1M253 374h1M258 377h1M260 373h1M250 376h1M260 366h1M250 373h1M262 368h1M263 370h1M262 372h1M252 365h1M254 377h1M260 370h1M253 375h1M254 364h1M264 378h1M260 378h1M256 382h1M259 376h1M252 371h1M263 377h1M260 376h1M249 382h1M249 375h1M256 374h1M272 373h1M257 381h1M256 369h1M253 371h1M249 373h1M262 375h1M254 372h1M263 374h1M267 376h1M252 372h1M251 366h1M254 363h1M257 370h1M267 366h1M254 378h1M259 378h1M256 376h1M265 380h1M251 371h1M255 378h1M260 368h1M255 381h1M250 378h1M267 377h1M256 365h1M256 368h1M263 382h1M256 375h1M273 343h1M279 346h1M274 342h1M268 342h1M264 340h1M281 337h1M271 337h1M271 341h1M269 339h1M273 353h1M269 342h1M273 348h1M267 339h1M284 340h1M274 352h1M276 346h1M268 344h1M268 338h1M269 353h1M276 347h1M272 339h1M273 339h1M270 346h1M281 344h1M274 344h1M272 344h1M286 339h1M269 348h1M282 348h1M272 351h1M274 340h1M266 339h1M272 342h1M273 342h1M276 341h1M277 345h1M279 334h1M269 341h1M282 347h1M275 336h1M288 343h1M273 336h1M272 345h1M273 352h1M267 354h1M272 348h1" stroke="#000" stroke-width="1" stroke-opacity="0.9" fill="none" shape-rendering="crispEdges"/>
<path d="M248 319.6H325.3V383" fill="none" stroke="#bbb" stroke-width="1.0"/>
<path d="M248 319.6V383H325.3" fill="none" stroke="#111" stroke-width="1.3"/>
<path d="M249.0 383v2.6M248 382.0h-2.6M268.1 383v2.6M248 366.4h-2.6M287.1 383v2.6M248 350.8h-2.6M306.2 383v2.6M248 335.2h-2.6" stroke="#222" stroke-width="1" fill="none"/>
<path d="M254.7 383v1.3M248 377.3h-1.3M258.1 383v1.3M248 374.6h-1.3M260.5 383v1.3M248 372.6h-1.3M262.3 383v1.3M248 371.1h-1.3M263.8 383v1.3M248 369.9h-1.3M266.2 383v1.3M248 367.9h-1.3M273.8 383v1.3M248 361.7h-1.3M277.2 383v1.3M248 359.0h-1.3M279.6 383v1.3M248 357.0h-1.3M281.4 383v1.3M248 355.5h-1.3M282.9 383v1.3M248 354.3h-1.3M285.3 383v1.3M248 352.3h-1.3M292.9 383v1.3M248 346.1h-1.3M296.3 383v1.3M248 343.4h-1.3M298.6 383v1.3M248 341.4h-1.3M300.5 383v1.3M248 339.9h-1.3M302.0 383v1.3M248 338.7h-1.3M304.4 383v1.3M248 336.7h-1.3M312.0 383v1.3M248 330.5h-1.3M315.3 383v1.3M248 327.8h-1.3M317.7 383v1.3M248 325.8h-1.3M319.6 383v1.3M248 324.3h-1.3M321.1 383v1.3M248 323.1h-1.3M323.5 383v1.3M248 321.1h-1.3" stroke="#444" stroke-width="0.7" fill="none"/>
<line x1="266.6" y1="319.6" x2="266.6" y2="383" stroke="#111" stroke-width="1.3"/>
<line x1="248" y1="365.4" x2="325.3" y2="365.4" stroke="#111" stroke-width="1.3"/>
<text x="320.5" y="340.6" font-size="14" text-anchor="end" textLength="15.8" lengthAdjust="spacingAndGlyphs" stroke-width="0.12">1.3</text>
<path d="M337 349h1M338 348h1M343 355h1M339 349h1M337 347h1M341 334h1M342 347h1M344 352h1M338 344h1M338 351h1M338 353h1M345 340h1M351 348h1M340 347h1M343 346h1M344 348h1M335 339h1M339 341h1M339 346h1M334 351h1M342 344h1M340 346h1M334 346h1M336 345h1M339 351h1M339 348h1M339 342h1M347 341h1M339 350h1M342 348h1M346 345h1M342 349h1M341 352h1M335 346h1M336 350h1M344 339h1M341 349h1M344 342h1M343 351h1M336 346h1M345 341h1M340 352h1M341 351h1M343 352h1M338 350h1M341 359h1M341 340h1M341 344h1M341 342h1M343 341h1M342 352h1M340 348h1M334 348h1M335 355h1M342 343h1M336 352h1M337 352h1M344 358h1M334 343h1M334 336h1M342 359h1M344 347h1M334 353h1M344 344h1M342 346h1M342 336h1M340 355h1M336 353h1M343 350h1M345 349h1M339 354h1M335 341h1M336 342h1M342 345h1M341 347h1M345 346h1M335 348h1M347 352h1M345 351h1M346 352h1M335 345h1M337 343h1M334 339h1M348 343h1M339 343h1M340 353h1M340 343h1M341 345h1M343 358h1M342 338h1M343 347h1M348 348h1M334 347h1M334 350h1M344 345h1M343 354h1M340 341h1M338 349h1M344 351h1M339 340h1M347 348h1M335 349h1M334 342h1M342 351h1M336 348h1M342 341h1M346 337h1M343 340h1M334 352h1M337 348h1M346 349h1M340 351h1M343 344h1M344 346h1M340 340h1M344 353h1M348 351h1M340 342h1M346 347h1M337 351h1M344 343h1M337 338h1M344 337h1M348 347h1M337 357h1M334 345h1M339 338h1M341 343h1M336 343h1M341 346h1M342 360h1M343 343h1M338 352h1M345 350h1M337 345h1M339 345h1M338 346h1M345 344h1M335 350h1M340 349h1M338 337h1M346 343h1M340 358h1M340 354h1M350 347h1M335 344h1M345 356h1M335 342h1M344 335h1M335 340h1M336 351h1M352 350h1M344 341h1M334 344h1M343 349h1M342 350h1M345 343h1M346 348h1M341 356h1M342 342h1M336 356h1M337 336h1M354 344h1M341 341h1M337 346h1M340 357h1M341 348h1M347 333h1M338 339h1M346 346h1M335 343h1M340 344h1M345 345h1M336 341h1M352 353h1M337 339h1M344 350h1M338 357h1M341 357h1M338 360h1M346 344h1M334 354h1M342 353h1M346 351h1M337 355h1M335 338h1M348 342h1M337 344h1M343 345h1M347 346h1M337 341h1M338 355h1M337 350h1M340 345h1M340 330h1M341 350h1M337 334h1M343 356h1M337 353h1M341 338h1M340 339h1M339 347h1M338 341h1M344 349h1M344 354h1M338 345h1M339 344h1M349 346h1M341 353h1M339 353h1M334 360h1M340 350h1M346 355h1M347 355h1M347 344h1M350 354h1M349 348h1M336 340h1M338 343h1M338 347h1M339 356h1M345 355h1M346 342h1M350 349h1M345 348h1M349 342h1M338 340h1M346 341h1M346 350h1M347 349h1M343 342h1M334 349h1M334 369h1M336 374h1M342 375h1M336 370h1M335 373h1M342 376h1M336 368h1M344 374h1M342 369h1M341 375h1M334 365h1M340 371h1M335 381h1M339 382h1M345 368h1M347 367h1M341 377h1M343 376h1M342 364h1M353 338h1M355 344h1M354 343h1M358 344h1M357 337h1M354 338h1" stroke="#000" stroke-width="1" stroke-opacity="0.9" fill="none" shape-rendering="crispEdges"/>
<path d="M332.5 319.6H410.7V383" fill="none" stroke="#bbb" stroke-width="1.0"/>
<path d="M332.5 319.6V383H410.7" fill="none" stroke="#111" stroke-width="1.3"/>
<path d="M333.5 383v2.6M332.5 382.0h-2.6M352.8 383v2.6M332.5 366.4h-2.6M372.1 383v2.6M332.5 350.8h-2.6M391.4 383v2.6M332.5 335.2h-2.6" stroke="#222" stroke-width="1" fill="none"/>
<path d="M339.3 383v1.3M332.5 377.3h-1.3M342.7 383v1.3M332.5 374.6h-1.3M345.1 383v1.3M332.5 372.6h-1.3M347.0 383v1.3M332.5 371.1h-1.3M348.5 383v1.3M332.5 369.9h-1.3M350.9 383v1.3M332.5 367.9h-1.3M358.6 383v1.3M332.5 361.7h-1.3M362.0 383v1.3M332.5 359.0h-1.3M364.4 383v1.3M332.5 357.0h-1.3M366.3 383v1.3M332.5 355.5h-1.3M367.8 383v1.3M332.5 354.3h-1.3M370.2 383v1.3M332.5 352.3h-1.3M377.9 383v1.3M332.5 346.1h-1.3M381.3 383v1.3M332.5 343.4h-1.3M383.7 383v1.3M332.5 341.4h-1.3M385.6 383v1.3M332.5 339.9h-1.3M387.1 383v1.3M332.5 338.7h-1.3M389.5 383v1.3M332.5 336.7h-1.3M397.2 383v1.3M332.5 330.5h-1.3M400.6 383v1.3M332.5 327.8h-1.3M403.0 383v1.3M332.5 325.8h-1.3M404.9 383v1.3M332.5 324.3h-1.3M406.4 383v1.3M332.5 323.1h-1.3M408.8 383v1.3M332.5 321.1h-1.3" stroke="#444" stroke-width="0.7" fill="none"/>
<line x1="351.4" y1="319.6" x2="351.4" y2="383" stroke="#111" stroke-width="1.3"/>
<line x1="332.5" y1="365.4" x2="410.7" y2="365.4" stroke="#111" stroke-width="1.3"/>
<text x="405.3" y="340.6" font-size="14" text-anchor="end" textLength="15.8" lengthAdjust="spacingAndGlyphs" stroke-width="0.12">0.6</text>
<text x="203.2" y="404" font-size="16.5" text-anchor="middle">CD44<tspan class="s" font-size="9.6" dx="0.8" dy="-5.6" letter-spacing="0.9">hi</tspan></text>
<text x="285.5" y="404" font-size="16.5" text-anchor="middle">CD44<tspan class="s" font-size="9.6" dx="0.8" dy="-5.6" letter-spacing="0.9">lo</tspan></text>
<text x="367.2" y="404" font-size="16.5" text-anchor="middle">CD44<tspan class="s" font-size="9.6" dx="0.8" dy="-5.6" letter-spacing="0.9">hi</tspan></text>
<!-- Panel B -->
<text x="1.4" y="487.7" font-size="23.5" font-weight="bold" stroke-width="0.5" class="s" textLength="16.5" lengthAdjust="spacingAndGlyphs">B</text>
<rect x="70.5" y="501" width="202.8" height="178.6" fill="none" stroke="#111" stroke-width="1.4"/>
<line x1="67.0" y1="679.6" x2="70.5" y2="679.6" stroke="#111" stroke-width="1.2"/>
<text x="63.8" y="684.7" font-size="14" text-anchor="end" textLength="6.6" lengthAdjust="spacingAndGlyphs" stroke-width="0.12">0</text>
<line x1="67.0" y1="657.27" x2="70.5" y2="657.27" stroke="#111" stroke-width="1.2"/>
<text x="63.8" y="662.4" font-size="14" text-anchor="end" textLength="6.6" lengthAdjust="spacingAndGlyphs" stroke-width="0.12">5</text>
<line x1="67.0" y1="634.95" x2="70.5" y2="634.95" stroke="#111" stroke-width="1.2"/>
<text x="63.8" y="640.1" font-size="14" text-anchor="end" textLength="13.3" lengthAdjust="spacingAndGlyphs" stroke-width="0.12">10</text>
<line x1="67.0" y1="612.62" x2="70.5" y2="612.62" stroke="#111" stroke-width="1.2"/>
<text x="63.8" y="617.7" font-size="14" text-anchor="end" textLength="13.3" lengthAdjust="spacingAndGlyphs" stroke-width="0.12">15</text>
<line x1="67.0" y1="590.3" x2="70.5" y2="590.3" stroke="#111" stroke-width="1.2"/>
<text x="63.8" y="595.4" font-size="14" text-anchor="end" textLength="13.3" lengthAdjust="spacingAndGlyphs" stroke-width="0.12">20</text>
<line x1="67.0" y1="567.98" x2="70.5" y2="567.98" stroke="#111" stroke-width="1.2"/>
<text x="63.8" y="573.1" font-size="14" text-anchor="end" textLength="13.3" lengthAdjust="spacingAndGlyphs" stroke-width="0.12">25</text>
<line x1="67.0" y1="545.65" x2="70.5" y2="545.65" stroke="#111" stroke-width="1.2"/>
<text x="63.8" y="550.8" font-size="14" text-anchor="end" textLength="13.3" lengthAdjust="spacingAndGlyphs" stroke-width="0.12">30</text>
<line x1="67.0" y1="523.33" x2="70.5" y2="523.33" stroke="#111" stroke-width="1.2"/>
<text x="63.8" y="528.4" font-size="14" text-anchor="end" textLength="13.3" lengthAdjust="spacingAndGlyphs" stroke-width="0.12">35</text>
<line x1="67.0" y1="501.0" x2="70.5" y2="501.0" stroke="#111" stroke-width="1.2"/>
<text x="63.8" y="506.1" font-size="14" text-anchor="end" textLength="13.3" lengthAdjust="spacingAndGlyphs" stroke-width="0.12">40</text>
<line x1="104.7" y1="619.32" x2="104.7" y2="604.59" stroke="#111" stroke-width="1.1"/>
<line x1="101.2" y1="604.59" x2="108.2" y2="604.59" stroke="#111" stroke-width="1.1"/>
<line x1="173" y1="589.41" x2="173" y2="525.11" stroke="#111" stroke-width="1.1"/>
<line x1="169.5" y1="525.11" x2="176.5" y2="525.11" stroke="#111" stroke-width="1.1"/>
<line x1="242" y1="658.17" x2="242" y2="650.58" stroke="#111" stroke-width="1.1"/>
<line x1="238.5" y1="650.58" x2="245.5" y2="650.58" stroke="#111" stroke-width="1.1"/>
<line x1="104.7" y1="666.65" x2="104.7" y2="662.19" stroke="#111" stroke-width="1.1"/>
<line x1="101.7" y1="662.19" x2="107.7" y2="662.19" stroke="#111" stroke-width="1.1"/>
<line x1="173" y1="669.33" x2="173" y2="665.31" stroke="#111" stroke-width="1.1"/>
<line x1="170" y1="665.31" x2="176" y2="665.31" stroke="#111" stroke-width="1.1"/>
<line x1="242" y1="678.71" x2="242" y2="677.81" stroke="#111" stroke-width="1.1"/>
<line x1="239" y1="677.81" x2="245" y2="677.81" stroke="#111" stroke-width="1.1"/>
<polyline points="104.7,619.32 173,589.41 242,658.17" fill="none" stroke="#111" stroke-width="1.5" stroke-linejoin="round"/>
<polyline points="104.7,666.65 173,669.33 242,678.71" fill="none" stroke="#111" stroke-width="1.5" stroke-linejoin="round"/>
<polygon points="104.7,616.32 107.7,619.32 104.7,622.32 101.7,619.32" fill="#000" stroke="none" stroke-width="1"/>
<polygon points="173,586.41 176.0,589.41 173,592.41 170.0,589.41" fill="#000" stroke="none" stroke-width="1"/>
<polygon points="242,655.17 245.0,658.17 242,661.17 239.0,658.17" fill="#000" stroke="none" stroke-width="1"/>
<rect x="101.6" y="663.55" width="6.2" height="6.2" fill="#000"/>
<rect x="169.9" y="666.23" width="6.2" height="6.2" fill="#000"/>
<rect x="238.9" y="675.61" width="6.2" height="6.2" fill="#000"/>
<text x="103.6" y="603.8" font-size="25" text-anchor="middle">*</text>
<text x="173.8" y="528.8" font-size="25" text-anchor="middle">*</text>
<text x="243.2" y="652.2" font-size="25" text-anchor="middle">*</text>
<text x="106.5" y="698.7" font-size="14" text-anchor="middle" textLength="6.6" lengthAdjust="spacingAndGlyphs" stroke-width="0.12">1</text>
<text x="172.3" y="698.7" font-size="14" text-anchor="middle" textLength="6.6" lengthAdjust="spacingAndGlyphs" stroke-width="0.12">7</text>
<text x="240.8" y="698.7" font-size="14" text-anchor="middle" textLength="13.3" lengthAdjust="spacingAndGlyphs" stroke-width="0.12">14</text>
<text x="178.4" y="716.7" font-size="16.5" text-anchor="middle" textLength="126.5" lengthAdjust="spacingAndGlyphs">Days after infusion</text>
<text x="21.8" y="593.3" font-size="16" text-anchor="middle" textLength="129.5" lengthAdjust="spacingAndGlyphs" transform="rotate(-90 21.8 593.3)">Annexin V-positive</text>
<text x="40.6" y="594.5" font-size="16" text-anchor="middle" textLength="150" lengthAdjust="spacingAndGlyphs" transform="rotate(-90 40.6 594.5)">donor CD8 T cells (%)</text>
<polygon points="288,514.3 296.0,522.3 288,530.3 280.0,522.3" fill="#000" stroke="none" stroke-width="1"/>
<rect x="280.0" y="544.6" width="15.2" height="15.2" fill="#000"/>
<text x="302.2" y="526" font-size="15">CD44<tspan font-size="10" dx="0.8" dy="-5.1" letter-spacing="0.3">hi</tspan></text>
<text x="302.2" y="556" font-size="15">CD44<tspan font-size="10" dx="0.8" dy="-5.1" letter-spacing="0.3">lo</tspan></text>
<!-- Panel C -->
<text x="374.8" y="486.4" font-size="24.5" font-weight="bold" stroke-width="0.5" class="s" textLength="17.3" lengthAdjust="spacingAndGlyphs">C</text>
<text x="453" y="484.1" font-size="16.5" text-anchor="middle" textLength="89" lengthAdjust="spacingAndGlyphs">Unstimulated</text>
<text x="452.8" y="498" font-size="16.5" text-anchor="middle" textLength="31.6" lengthAdjust="spacingAndGlyphs">CD8</text>
<line x1="401.3" y1="502.5" x2="401.3" y2="752.5" stroke="#111" stroke-width="1.9"/>
<path d="M423 584h1M444 589h1M422 586h1M440 580h1M423 593h1M442 583h1M450 580h1M434 587h1M459 588h1M428 593h1M436 585h1M432 586h1M438 582h1M445 585h1M420 582h1M433 594h1M435 590h1M437 567h1M435 581h1M422 588h1M441 586h1M439 585h1M425 583h1M427 575h1M430 582h1M435 580h1M429 580h1M434 579h1M441 585h1M428 581h1M439 576h1M431 583h1M440 584h1M437 585h1M429 592h1M431 582h1M449 580h1M445 581h1M442 585h1M442 576h1M432 590h1M454 584h1M444 581h1M424 572h1M452 585h1M427 587h1M439 579h1M442 586h1M448 590h1M443 579h1M432 596h1M426 585h1M440 577h1M425 586h1M441 587h1M420 581h1M445 591h1M431 585h1M459 582h1M436 577h1M434 575h1M428 589h1M442 578h1M441 584h1M419 590h1M432 581h1M436 588h1M436 583h1M443 589h1M450 577h1M433 589h1M423 585h1M437 573h1M437 590h1M419 578h1M420 585h1M420 566h1M446 583h1M433 598h1M434 595h1M441 598h1M426 579h1M451 593h1M443 592h1M428 590h1M424 590h1M447 582h1M455 586h1M434 592h1M434 594h1M443 578h1M424 596h1M421 586h1M436 589h1M449 585h1M441 579h1M427 597h1M442 590h1M447 584h1M419 582h1M428 588h1M442 581h1M445 596h1M429 599h1M441 590h1M427 590h1M452 580h1M434 585h1M433 588h1M423 590h1M451 583h1M436 587h1M436 584h1M429 585h1M428 592h1M425 581h1M419 587h1M446 585h1M434 589h1M434 581h1M431 593h1M423 592h1M422 580h1M438 587h1M449 590h1M420 595h1M426 581h1M447 593h1M445 588h1M431 589h1M425 593h1M440 574h1M461 588h1M419 588h1M454 583h1M428 580h1M440 595h1M430 587h1M435 585h1M432 585h1M429 591h1M449 584h1M439 595h1M433 581h1M423 580h1M431 584h1M446 588h1M450 590h1M426 582h1M425 588h1M444 579h1M420 583h1M446 587h1M429 588h1M424 587h1M433 587h1M421 580h1M434 588h1M425 587h1M456 589h1M443 597h1M427 585h1M440 578h1M439 587h1M435 587h1M437 582h1M432 591h1M427 580h1M447 580h1M443 581h1M435 582h1M428 582h1M429 587h1M439 578h1M427 591h1M439 589h1M434 596h1M442 589h1M426 574h1M442 566h1M439 588h1M435 583h1M440 591h1M423 581h1M426 598h1M440 586h1M419 586h1M424 588h1M451 599h1M433 573h1M444 595h1M444 592h1M419 583h1M437 583h1M433 586h1M448 592h1M430 597h1M426 590h1M452 587h1M434 573h1M439 591h1M429 595h1M436 592h1M444 586h1M426 592h1M438 572h1M431 590h1M426 587h1M449 586h1M430 595h1M437 586h1M432 584h1M435 573h1M447 587h1M422 592h1M456 582h1M441 580h1M432 587h1M444 588h1M422 587h1M432 577h1M435 584h1M444 578h1M435 588h1M458 587h1M453 580h1M442 587h1M424 575h1M428 585h1M438 589h1M440 590h1M437 591h1M430 585h1M423 572h1M435 586h1M428 577h1M448 584h1M422 589h1M441 589h1M424 593h1M428 586h1M429 586h1M462 576h1M425 584h1M432 588h1M434 578h1M442 594h1M431 591h1M443 585h1M443 586h1M440 593h1M436 590h1M428 584h1M438 591h1M419 599h1M434 599h1M427 583h1M451 579h1M438 585h1M425 589h1M438 578h1M433 595h1M434 583h1M425 579h1M432 593h1M455 593h1M431 581h1M453 591h1M429 582h1M438 593h1M441 592h1M442 577h1M423 588h1M448 588h1M419 589h1M437 587h1M419 579h1M445 578h1M438 576h1M420 587h1M438 592h1M430 584h1M433 599h1M439 584h1M445 590h1M459 581h1M438 580h1M444 585h1M439 597h1M450 589h1M449 589h1M455 581h1M431 599h1M457 582h1M431 568h1M423 578h1M432 594h1M438 583h1M432 582h1M443 591h1M453 586h1M445 595h1M442 584h1M424 585h1M447 588h1M437 592h1M445 577h1M420 584h1M442 582h1M429 589h1M430 591h1M443 587h1M443 593h1M427 579h1M431 587h1M438 590h1M422 583h1M444 582h1M424 582h1M437 581h1M430 594h1M444 580h1M447 579h1M422 590h1M425 574h1M453 575h1M449 576h1M460 596h1M448 578h1M430 574h1M436 578h1M457 587h1M428 594h1M441 581h1M427 588h1M432 589h1M425 585h1M425 592h1M436 596h1M419 591h1M440 597h1M427 593h1M433 597h1M444 587h1M438 588h1M435 591h1M449 583h1M428 587h1M432 580h1M456 594h1M425 596h1M420 591h1M438 577h1M440 587h1M434 574h1M445 571h1M456 583h1M427 589h1M436 572h1M442 575h1M434 591h1M428 599h1M436 581h1M433 590h1M426 595h1M425 580h1M444 591h1M433 578h1M458 577h1M424 583h1M435 575h1M433 579h1M443 575h1M419 577h1M435 594h1M446 584h1M424 597h1M433 585h1M431 595h1M437 578h1M423 591h1M440 579h1M452 575h1M428 583h1M448 577h1M444 584h1M447 581h1M420 580h1M435 595h1M439 582h1M440 588h1M440 589h1M441 578h1M433 580h1M428 595h1M446 593h1M444 583h1M430 588h1M437 588h1M427 586h1M437 584h1M442 596h1M448 587h1M439 581h1M443 576h1M450 588h1M435 589h1M439 583h1M421 584h1M450 591h1M440 583h1M437 596h1M423 598h1M426 583h1M430 580h1M430 581h1M442 580h1M445 584h1M426 589h1M434 577h1M439 580h1M419 595h1M444 577h1M426 591h1M453 582h1M443 583h1M434 584h1M441 588h1M429 579h1M439 594h1M436 594h1M431 596h1M433 593h1M451 589h1M421 575h1M423 586h1M442 588h1M436 579h1M424 580h1M451 585h1M431 588h1M422 581h1M436 598h1M423 583h1M428 570h1M423 577h1M440 585h1M450 583h1M441 582h1M437 589h1M430 586h1M430 589h1M437 579h1M430 583h1M419 584h1M453 592h1M439 590h1M457 574h1M419 596h1M438 584h1M425 578h1M431 579h1M436 586h1M420 594h1M421 583h1M434 590h1M421 591h1M445 589h1M423 587h1M440 599h1M441 574h1M457 575h1M419 580h1M445 587h1M449 581h1M435 578h1M440 592h1M446 574h1M456 590h1M423 576h1M424 584h1M424 586h1M452 593h1M448 579h1M422 598h1M438 581h1M447 595h1M421 570h1M429 593h1M426 588h1M446 595h1M441 599h1M427 578h1M431 574h1M431 575h1M430 592h1M419 581h1M449 588h1M419 592h1M424 579h1M454 594h1M448 585h1M461 589h1M445 586h1M442 593h1M425 599h1M439 593h1M443 582h1M463 584h1M454 585h1M454 590h1M437 580h1M424 581h1M451 597h1M427 572h1M424 595h1M451 578h1M442 591h1M439 575h1M439 592h1M435 598h1M422 591h1M433 583h1M443 584h1M425 582h1M449 572h1M451 584h1M422 577h1M439 598h1M433 577h1M435 592h1M426 573h1M445 597h1M431 577h1M449 587h1M422 579h1M440 581h1M425 590h1M451 582h1M429 590h1M452 577h1M456 584h1M472 588h1M459 585h1M451 575h1M451 588h1M454 577h1M458 589h1M478 587h1M464 590h1M460 587h1M468 581h1M469 587h1M472 583h1M458 578h1M449 592h1M455 587h1M455 573h1M469 593h1M473 585h1M471 593h1M472 579h1M459 591h1M459 584h1M483 575h1M475 587h1M460 589h1M460 581h1M461 584h1M459 578h1M464 577h1M461 579h1M462 590h1M461 591h1M461 590h1M462 588h1M454 588h1M462 594h1M463 578h1M460 583h1M467 591h1M473 571h1M453 573h1M456 577h1M463 594h1M455 592h1M461 599h1M466 585h1M477 597h1M464 586h1M468 594h1M451 587h1M463 597h1M465 586h1M468 599h1M454 589h1M469 576h1M463 587h1M473 591h1M479 584h1M466 586h1M472 585h1M455 585h1M474 586h1M472 586h1M468 588h1M469 586h1M484 596h1M466 596h1M457 583h1M460 584h1M466 588h1M467 574h1M481 589h1M451 574h1M470 579h1M467 587h1M472 592h1M471 588h1M459 572h1M467 584h1M460 582h1M469 581h1M463 593h1M465 587h1M457 576h1M471 589h1M466 581h1M456 588h1M465 582h1M454 581h1M481 585h1M462 585h1M453 583h1M464 581h1M464 584h1M477 595h1M463 581h1M464 588h1M469 580h1M464 582h1M459 575h1M455 583h1M459 599h1M461 582h1M458 588h1M473 581h1M456 580h1M454 586h1M461 578h1M456 591h1M470 582h1M450 585h1M469 595h1M461 573h1M458 575h1M470 595h1M481 588h1M456 596h1M458 597h1M464 589h1M465 591h1M463 572h1M448 594h1M473 589h1M474 582h1M481 575h1M467 590h1M467 577h1M463 599h1M459 586h1M459 579h1M445 599h1M453 590h1M467 582h1M463 585h1M456 592h1M452 588h1M468 583h1M479 582h1M458 576h1M468 593h1M461 574h1M466 593h1M460 586h1M473 586h1M470 584h1M463 590h1M470 578h1M458 591h1M461 594h1M467 585h1M451 595h1M446 582h1M458 599h1M468 580h1M460 576h1M463 595h1M459 592h1M458 585h1M464 587h1M468 584h1M452 581h1M457 593h1M475 583h1M470 583h1M478 589h1M452 570h1M465 574h1M461 575h1M460 592h1M456 581h1M455 584h1M453 584h1M469 590h1M449 577h1M477 587h1M462 591h1M452 594h1M476 599h1M455 578h1M471 585h1M463 591h1M457 589h1M440 575h1M468 573h1M469 596h1M453 581h1M459 596h1M462 577h1M452 589h1M467 586h1M473 593h1M477 589h1M464 591h1M456 599h1M453 578h1M457 594h1M466 591h1M461 580h1M466 582h1M476 596h1M462 582h1M465 584h1M466 595h1M461 587h1M469 597h1M465 577h1M460 591h1M466 589h1M468 586h1M464 578h1M475 573h1M457 580h1M448 581h1M473 590h1M460 590h1M475 594h1M463 580h1M464 576h1M477 581h1M464 585h1M447 572h1M448 593h1M475 585h1M455 594h1M458 580h1M457 581h1M462 581h1M462 583h1M473 592h1M458 593h1M452 586h1M466 598h1M465 594h1M473 594h1M462 593h1M481 599h1M476 592h1M472 587h1M469 591h1M463 586h1M467 581h1M449 582h1M466 580h1M472 591h1M464 580h1M451 590h1M468 585h1M459 589h1M475 581h1M451 573h1M467 595h1M477 584h1M466 583h1M441 583h1M465 589h1M454 592h1M465 590h1M469 594h1M460 593h1M471 583h1M470 587h1M466 579h1M448 586h1M477 580h1M477 582h1M465 583h1M468 590h1M467 583h1M464 583h1M466 578h1M454 587h1M461 585h1M471 591h1M466 587h1M453 579h1M462 596h1M465 580h1M471 594h1M480 575h1M461 598h1M454 580h1M480 589h1M446 592h1M478 586h1M450 599h1M463 588h1M457 579h1M478 599h1M457 584h1M457 591h1M462 589h1M488 587h1M456 595h1M446 591h1M466 590h1M453 587h1M458 583h1M463 579h1M450 597h1M457 588h1M461 595h1M455 596h1M454 593h1M476 590h1M455 579h1M461 583h1M464 593h1M454 575h1M471 597h1M461 597h1M474 592h1M458 582h1M464 594h1M475 586h1M465 578h1M471 587h1M474 585h1M453 585h1M480 584h1M474 574h1M471 578h1M458 590h1M474 577h1M465 581h1M470 574h1M457 586h1M473 587h1M448 589h1M470 589h1M463 583h1M453 589h1M460 579h1M472 593h1M450 575h1M468 592h1M449 591h1M447 592h1M470 586h1M469 577h1M471 581h1M471 584h1M476 584h1M479 590h1M464 596h1M480 595h1M454 578h1M473 579h1M450 596h1M458 592h1M460 595h1M452 583h1M447 583h1M449 578h1M472 582h1M465 585h1M466 594h1M460 568h1M455 580h1M475 582h1M480 580h1M474 588h1M466 592h1M464 595h1M455 589h1M460 580h1M466 575h1M463 589h1M466 576h1M476 585h1M469 585h1M471 590h1M470 585h1M444 598h1M479 581h1M486 584h1M473 580h1M460 577h1M467 578h1M461 581h1M431 573h1M444 590h1M438 594h1M487 577h1M478 574h1M481 593h1M462 586h1M491 576h1M454 574h1M452 574h1M466 569h1M435 576h1M484 577h1M469 588h1M470 590h1M469 566h1M446 570h1M485 580h1M472 578h1M427 582h1M467 563h1M456 586h1M480 570h1M494 580h1M471 565h1M450 569h1M456 571h1M470 596h1M463 574h1M455 572h1M445 579h1M477 585h1M461 586h1M472 572h1M448 567h1M455 588h1M441 575h1M422 573h1M443 588h1M474 589h1M481 582h1M477 591h1M478 582h1M474 581h1M430 564h1M450 578h1M455 575h1M475 575h1M437 565h1M467 573h1M449 567h1M455 574h1M448 582h1M454 582h1M471 592h1M464 573h1M497 572h1M484 547h1M511 552h1M489 531h1M452 568h1M511 515h1M456 551h1M495 553h1" stroke="#000" stroke-width="1" stroke-opacity="0.9" fill="none" shape-rendering="crispEdges"/>
<rect x="418" y="510.8" width="95" height="89.6" fill="none" stroke="#222" stroke-width="1.0"/>
<path d="M419.0 600.4v2.6M418 599.4h-2.6M442.5 600.4v2.6M418 577.2h-2.6M466.0 600.4v2.6M418 555.1h-2.6M489.5 600.4v2.6M418 533.0h-2.6" stroke="#222" stroke-width="1" fill="none"/>
<path d="M426.1 600.4v1.3M418 592.7h-1.3M430.2 600.4v1.3M418 588.8h-1.3M433.1 600.4v1.3M418 586.1h-1.3M435.4 600.4v1.3M418 583.9h-1.3M437.3 600.4v1.3M418 582.2h-1.3M440.2 600.4v1.3M418 579.4h-1.3M449.6 600.4v1.3M418 570.6h-1.3M453.7 600.4v1.3M418 566.7h-1.3M456.6 600.4v1.3M418 563.9h-1.3M458.9 600.4v1.3M418 561.8h-1.3M460.8 600.4v1.3M418 560.0h-1.3M463.7 600.4v1.3M418 557.2h-1.3M473.1 600.4v1.3M418 548.4h-1.3M477.2 600.4v1.3M418 544.5h-1.3M480.1 600.4v1.3M418 541.8h-1.3M482.4 600.4v1.3M418 539.6h-1.3M484.3 600.4v1.3M418 537.9h-1.3M487.2 600.4v1.3M418 535.1h-1.3M496.6 600.4v1.3M418 526.3h-1.3M500.7 600.4v1.3M418 522.4h-1.3M503.6 600.4v1.3M418 519.6h-1.3M505.9 600.4v1.3M418 517.5h-1.3M507.8 600.4v1.3M418 515.7h-1.3M510.7 600.4v1.3M418 512.9h-1.3" stroke="#444" stroke-width="0.7" fill="none"/>
<line x1="451.2" y1="510.8" x2="451.2" y2="600.4" stroke="#111" stroke-width="1.7"/>
<line x1="418" y1="571.2" x2="513" y2="571.2" stroke="#111" stroke-width="1.4"/>
<text x="428.2" y="529.6" font-size="14.5" textLength="15.2" lengthAdjust="spacingAndGlyphs" stroke-width="0.12">0.7</text>
<text x="493.3" y="529.6" font-size="14.5" textLength="15.2" lengthAdjust="spacingAndGlyphs" stroke-width="0.12">1.2</text>
<text x="385.8" y="611.5" font-size="19.5" text-anchor="middle" textLength="27.7" lengthAdjust="spacingAndGlyphs" transform="rotate(-90 385.8 611.5)">Fas</text>
<text x="463" y="632.3" font-size="16.5" text-anchor="middle" textLength="98.5" lengthAdjust="spacingAndGlyphs">DC-stimulated</text>
<text x="421.8" y="647" font-size="16.5">CD44<tspan font-size="10" dx="0.5" dy="-5.5" letter-spacing="0.3">lo</tspan><tspan dy="5.5" dx="-2"> CD8</tspan></text>
<path d="M442 717h1M419 737h1M431 721h1M430 732h1M427 718h1M419 721h1M436 721h1M438 726h1M430 715h1M428 727h1M419 729h1M438 717h1M437 720h1M437 722h1M441 723h1M419 733h1M427 731h1M425 725h1M435 719h1M424 724h1M441 721h1M447 724h1M431 723h1M428 725h1M434 724h1M427 727h1M431 732h1M433 730h1M429 730h1M432 726h1M429 728h1M433 716h1M419 725h1M428 731h1M445 721h1M440 725h1M425 720h1M438 725h1M430 721h1M424 730h1M431 719h1M439 722h1M443 723h1M427 713h1M427 722h1M436 723h1M434 720h1M436 726h1M432 717h1M432 729h1M420 729h1M446 725h1M419 728h1M429 724h1M424 720h1M452 725h1M433 724h1M445 719h1M437 729h1M435 730h1M442 723h1M434 723h1M436 724h1M426 727h1M426 730h1M421 733h1M448 725h1M422 721h1M442 713h1M424 718h1M437 717h1M427 717h1M442 735h1M443 715h1M420 725h1M430 723h1M424 722h1M438 724h1M431 733h1M436 730h1M432 728h1M454 720h1M445 722h1M431 713h1M430 716h1M421 731h1M437 730h1M449 718h1M432 715h1M427 729h1M419 738h1M419 724h1M436 732h1M424 733h1M438 718h1M430 724h1M439 720h1M438 721h1M426 717h1M441 724h1M431 728h1M419 732h1M419 730h1M426 731h1M441 728h1M440 731h1M434 727h1M440 721h1M425 722h1M445 724h1M451 724h1M433 733h1M448 717h1M446 716h1M433 722h1M421 728h1M440 730h1M433 727h1M438 719h1M422 732h1M445 716h1M431 720h1M432 722h1M428 722h1M447 714h1M443 721h1M422 725h1M419 719h1M439 716h1M445 729h1M439 717h1M438 722h1M451 716h1M438 728h1M433 717h1M437 719h1M427 726h1M441 714h1M429 726h1M430 725h1M432 720h1M435 724h1M436 733h1M430 714h1M422 729h1M434 719h1M445 734h1M424 729h1M437 721h1M444 721h1M437 723h1M438 715h1M432 727h1M425 723h1M454 719h1M448 721h1M424 738h1M434 714h1M437 731h1M435 733h1M419 717h1M430 720h1M430 728h1M435 727h1M442 722h1M430 727h1M437 718h1M429 736h1M439 727h1M437 726h1M435 725h1M424 732h1M431 724h1M419 739h1M451 725h1M420 718h1M419 726h1M437 715h1M433 725h1M442 724h1M419 720h1M434 712h1M447 726h1M428 710h1M447 718h1M432 733h1M442 726h1M442 720h1M420 726h1M430 726h1M437 724h1M428 726h1M434 725h1M419 727h1M432 711h1M441 735h1M419 722h1M419 736h1M424 726h1M429 725h1M428 729h1M450 727h1M421 723h1M440 723h1M445 718h1M447 722h1M425 729h1M428 723h1M426 715h1M429 732h1M421 730h1M456 730h1M452 715h1M423 718h1M444 725h1M426 723h1M427 720h1M438 731h1M439 725h1M442 718h1M440 719h1M431 731h1M429 727h1M430 717h1M426 726h1M435 718h1M430 719h1M433 726h1M422 728h1M436 719h1M438 733h1M434 728h1M431 730h1M424 723h1M428 713h1M434 722h1M436 711h1M446 721h1M429 722h1M420 728h1M433 718h1M422 724h1M446 720h1M436 728h1M439 715h1M435 723h1M440 736h1M434 729h1M432 725h1M419 744h1M438 736h1M435 729h1M437 725h1M424 717h1M426 725h1M432 723h1M434 718h1M431 725h1M436 720h1M441 716h1M432 724h1M422 715h1M425 726h1M422 730h1M423 723h1M444 710h1M430 710h1M443 722h1M436 714h1M440 722h1M438 720h1M423 715h1M438 723h1M435 728h1M436 718h1M428 724h1M439 723h1M441 726h1M445 714h1M424 721h1M430 731h1M434 740h1M431 727h1M435 721h1M427 728h1M423 732h1M444 730h1M424 719h1M442 728h1M439 732h1M440 714h1M432 714h1M438 730h1M430 730h1M439 721h1M431 717h1M422 722h1M423 721h1M443 717h1M441 720h1M421 729h1M423 729h1M427 719h1M449 725h1M432 732h1M443 720h1M434 738h1M446 713h1M436 731h1M446 712h1M425 724h1M435 722h1M428 730h1M433 728h1M442 721h1M449 713h1M443 728h1M440 720h1M441 718h1M438 729h1M440 715h1M426 724h1M440 713h1M419 734h1M421 724h1M419 715h1M434 726h1M427 721h1M436 727h1M420 738h1M426 732h1M433 732h1M447 727h1M428 719h1M455 725h1M438 712h1M423 717h1M444 720h1M429 721h1M450 715h1M433 723h1M432 719h1M422 734h1M432 731h1M431 726h1M432 716h1M437 732h1M436 722h1M442 716h1M421 737h1M445 726h1M432 736h1M444 724h1M431 718h1M425 717h1M430 733h1M422 726h1M426 729h1M431 729h1M447 719h1M445 717h1M427 724h1M426 721h1M437 728h1M464 709h1M427 733h1M428 734h1M435 720h1M447 725h1M423 734h1M428 728h1M424 731h1M448 713h1M424 725h1M436 717h1M448 720h1M442 729h1M423 736h1M441 729h1M425 715h1M446 723h1M431 722h1M435 726h1M440 726h1M432 721h1M423 727h1M443 731h1M423 722h1M429 718h1M429 729h1M449 723h1M439 718h1M434 730h1M436 716h1M441 733h1M429 719h1M445 713h1M440 735h1M434 710h1M436 725h1M431 735h1M419 731h1M438 727h1M441 707h1M425 721h1M440 717h1M437 727h1M422 723h1M444 727h1M426 720h1M425 728h1M448 712h1M454 703h1M439 730h1M442 727h1M440 728h1M448 723h1M419 723h1M426 719h1M426 718h1M434 715h1M428 717h1M439 724h1M427 725h1M421 734h1M428 720h1M449 716h1M425 735h1M430 729h1M434 731h1M434 721h1M439 734h1M450 731h1M441 717h1M448 715h1M423 726h1M424 727h1M430 722h1M435 732h1M439 728h1M448 719h1M429 715h1M425 727h1M443 726h1M446 728h1M421 726h1M426 733h1M429 716h1M420 731h1M444 723h1M428 733h1M439 719h1M435 717h1M448 724h1M427 730h1M428 721h1M440 727h1M423 733h1M445 720h1M452 723h1M448 714h1M422 727h1M445 732h1M442 732h1M425 732h1M447 723h1M437 712h1M423 719h1M446 724h1M446 722h1M439 726h1M432 718h1M447 716h1M427 716h1M421 727h1M435 737h1M449 717h1M453 724h1M428 718h1M441 722h1M420 721h1M437 733h1M445 725h1M441 725h1M426 728h1M425 718h1M435 731h1M423 731h1M439 733h1M430 734h1M423 725h1M428 736h1M430 737h1M422 735h1M425 734h1M424 713h1M423 728h1M439 729h1M440 729h1M422 717h1M442 725h1M438 732h1M436 729h1M420 730h1M444 722h1M454 713h1M427 737h1M419 735h1M424 715h1M447 711h1M452 722h1M428 735h1M420 732h1M441 730h1M427 732h1M428 714h1M444 726h1M437 716h1M421 720h1M450 721h1M443 719h1M439 737h1M433 719h1M455 713h1M433 734h1M441 727h1M420 719h1M451 720h1M427 741h1M445 737h1M440 724h1M424 710h1M429 731h1M429 723h1M432 735h1M441 731h1M420 724h1M433 720h1M462 737h1M458 728h1M479 725h1M459 718h1M474 730h1M475 707h1M472 724h1M466 719h1M461 731h1M458 712h1M469 722h1M477 714h1M474 731h1M463 728h1M464 716h1M477 721h1M456 708h1M477 732h1M468 724h1M476 723h1M466 723h1M458 718h1M457 728h1M476 727h1M469 719h1M472 722h1M470 733h1M459 717h1M462 725h1M467 731h1M462 732h1M467 709h1M467 733h1M461 719h1M465 716h1M463 727h1M465 731h1M469 712h1M462 717h1M465 723h1M477 722h1M479 727h1M472 713h1M475 716h1M480 725h1M464 718h1M463 718h1M475 722h1M453 740h1M473 726h1M481 710h1M471 714h1M483 717h1M477 734h1M485 735h1M467 729h1M474 722h1M451 714h1M476 732h1M473 706h1M473 697h1M467 713h1M470 729h1M482 706h1M485 711h1M473 728h1M465 735h1M473 722h1M474 726h1M476 728h1M465 713h1M466 725h1M468 725h1M464 730h1M482 717h1M475 721h1M470 719h1M464 732h1M476 722h1M479 716h1M467 717h1M467 710h1M462 736h1M468 719h1M468 736h1M482 713h1M469 727h1M459 720h1M463 736h1M470 714h1M471 717h1M457 711h1M465 726h1M472 709h1M482 714h1M485 722h1M469 724h1M472 726h1M467 722h1M477 713h1M477 720h1M466 706h1M471 724h1M467 720h1M467 715h1M475 717h1M449 722h1M459 719h1M470 720h1M467 711h1M459 707h1M474 723h1M478 718h1M481 721h1M466 720h1M474 718h1M480 709h1M463 716h1M476 720h1M475 723h1M454 726h1M455 712h1M479 724h1M474 717h1M458 721h1M462 738h1M471 723h1M462 719h1M473 723h1M465 720h1M469 713h1M455 728h1M472 735h1M479 728h1M479 729h1M460 713h1M461 717h1M460 729h1M455 731h1M463 720h1M487 727h1M450 726h1M462 712h1M460 732h1M479 712h1M481 734h1M467 705h1M461 727h1M468 722h1M479 738h1M460 730h1M465 737h1M471 725h1M453 722h1M457 729h1M477 724h1M458 726h1M486 727h1M459 712h1M471 710h1M468 710h1M476 710h1M455 716h1M462 735h1M471 716h1M480 738h1M468 730h1M465 717h1M468 707h1M474 738h1M461 714h1M466 730h1M469 723h1M467 716h1M466 735h1M473 719h1M469 715h1M469 730h1M466 707h1M461 713h1M481 724h1M472 719h1M463 740h1M462 739h1M474 724h1M453 735h1M461 709h1M466 722h1M464 722h1M467 714h1M460 725h1M473 731h1M472 725h1M474 728h1M473 725h1M465 714h1M480 727h1M483 714h1M457 731h1M456 723h1M459 725h1M466 717h1M461 742h1M461 726h1M463 731h1M470 710h1M473 724h1M471 715h1M461 718h1M466 718h1M485 723h1M465 712h1M480 717h1M457 720h1M450 738h1M464 723h1M477 731h1M455 729h1M455 718h1M473 720h1M467 732h1M480 699h1M468 731h1M460 704h1M465 729h1M459 730h1M463 721h1M480 697h1M469 720h1M474 713h1M463 717h1M471 720h1M473 710h1M461 724h1M454 735h1M480 736h1M479 720h1M462 729h1M469 744h1M468 723h1M468 711h1M463 741h1M459 737h1M460 743h1M470 726h1M468 737h1M471 708h1M462 714h1M464 728h1M467 730h1M468 712h1M465 722h1M457 732h1M485 714h1M478 717h1M467 724h1M469 737h1M468 720h1M468 708h1M474 732h1M473 732h1M459 723h1M463 733h1M459 729h1M458 723h1M461 702h1M479 711h1M454 729h1M474 735h1M470 732h1M470 717h1M457 716h1M463 732h1M472 717h1M463 706h1M472 707h1M476 729h1M467 723h1M464 706h1M480 726h1M460 724h1M464 727h1M473 716h1M462 728h1M463 714h1M478 705h1M468 714h1M456 725h1M483 719h1M467 712h1M484 734h1M459 709h1M476 721h1M469 726h1M466 727h1M472 715h1M466 745h1M471 729h1M474 714h1M473 700h1M479 734h1M475 714h1M466 726h1M469 721h1M474 715h1M469 748h1M465 718h1M472 706h1M470 722h1M473 729h1M458 729h1M473 727h1M477 729h1M459 733h1M464 713h1M463 742h1M473 711h1M462 718h1M470 702h1M475 728h1M479 710h1M460 706h1M482 715h1M477 716h1M462 720h1M468 728h1M469 728h1M478 724h1M458 720h1M481 718h1M472 711h1M478 725h1M459 734h1M479 715h1M473 733h1M467 719h1M475 720h1M453 723h1M461 725h1M468 721h1M471 711h1M473 705h1M448 728h1M471 728h1M467 736h1M467 726h1M459 727h1M487 719h1M464 721h1M476 724h1M471 706h1M461 730h1M462 724h1M460 720h1M480 721h1M469 725h1M460 715h1M465 707h1M471 700h1M457 717h1M467 727h1M455 717h1M488 720h1M465 719h1M462 742h1M468 705h1M478 708h1M481 722h1M487 729h1M473 717h1M476 725h1M477 709h1M463 726h1M463 709h1M477 725h1M466 721h1M489 714h1M473 730h1M462 715h1M468 718h1M472 734h1M486 703h1M477 726h1M461 722h1M476 735h1M461 729h1M464 729h1M463 722h1M469 732h1M456 720h1M466 729h1M466 714h1M463 725h1M469 707h1M482 704h1M477 717h1M466 702h1M460 722h1M472 718h1M466 710h1M467 721h1M465 706h1M470 724h1M470 712h1M472 723h1M469 736h1M455 736h1M464 717h1M463 719h1M451 727h1M463 700h1M476 718h1M463 723h1M478 720h1M480 720h1M470 711h1M459 715h1M479 693h1M470 727h1M466 712h1M464 710h1M486 707h1M479 697h1M481 726h1M476 733h1M481 716h1M479 719h1M482 707h1M472 698h1M477 719h1M470 730h1M460 711h1M452 740h1M478 711h1M464 731h1M473 718h1M471 707h1M465 728h1M459 721h1M472 732h1M471 713h1M453 725h1M470 713h1M468 735h1M461 711h1M481 728h1M468 717h1M479 714h1M469 717h1M476 717h1M474 712h1M463 737h1M474 725h1M478 730h1M475 727h1M461 723h1M476 719h1M464 705h1M471 705h1M471 726h1M487 712h1M470 741h1M458 708h1M475 704h1M465 711h1M472 730h1M474 733h1M466 737h1M466 734h1M471 719h1M481 725h1M475 724h1M472 721h1M470 708h1M463 724h1M464 724h1M481 703h1M472 710h1M471 709h1M478 716h1M469 708h1M462 722h1M463 729h1M479 732h1M478 710h1M468 740h1M466 713h1M452 731h1M480 706h1M467 718h1M458 725h1M462 727h1M471 738h1M473 713h1M480 714h1M460 714h1M484 719h1M472 727h1M483 710h1M478 727h1M468 727h1M470 735h1M459 714h1M473 709h1M472 720h1M469 703h1M484 725h1M478 709h1M480 702h1M479 718h1M458 734h1M474 700h1M449 720h1M457 721h1M477 718h1M471 712h1M457 746h1M465 732h1M466 724h1M467 725h1M470 721h1M457 704h1M469 711h1M450 730h1M460 727h1M475 708h1M484 726h1M464 725h1M465 725h1M458 738h1M477 708h1M465 703h1M470 709h1M469 731h1M461 728h1M469 718h1M475 734h1M477 715h1M463 730h1M475 726h1M464 726h1M478 715h1M468 706h1M469 714h1M465 709h1M481 715h1M471 718h1M460 717h1M477 694h1M468 729h1M478 719h1M455 715h1M479 723h1M466 716h1M464 720h1M473 708h1M482 726h1M474 720h1M471 730h1M471 722h1M476 709h1M465 730h1M477 711h1M456 719h1M475 711h1M459 722h1M456 718h1M461 735h1M472 739h1M484 727h1M484 699h1M464 711h1M474 734h1M481 717h1M465 734h1M480 710h1M472 716h1M463 711h1M465 724h1M459 731h1M480 719h1M460 726h1M454 721h1M466 731h1M468 703h1M463 715h1M484 732h1M472 700h1M456 727h1M469 700h1M485 733h1M461 743h1M473 737h1M463 713h1M481 709h1M461 733h1M466 715h1M463 735h1M458 722h1M475 719h1M467 734h1M457 724h1M457 708h1M457 714h1M459 732h1M468 715h1M462 721h1M456 726h1M459 738h1M470 731h1M474 711h1M480 723h1M484 702h1M470 723h1M459 713h1M457 719h1M463 710h1M460 721h1M465 715h1M464 719h1M473 739h1M453 721h1M465 733h1M474 716h1M473 714h1M464 735h1M489 730h1M476 734h1M450 723h1M474 740h1M470 716h1M471 727h1M478 713h1M469 729h1M477 712h1M462 734h1M471 721h1M474 721h1M460 728h1M458 719h1M474 744h1M471 731h1M456 705h1M477 723h1M489 722h1M470 698h1M472 728h1M474 729h1M469 733h1M469 742h1M476 715h1M469 716h1M453 734h1M463 708h1M473 736h1M448 729h1M474 695h1M482 727h1M459 726h1M451 709h1M485 721h1M461 721h1M469 701h1M478 702h1M470 737h1M458 711h1M464 714h1M469 692h1M470 705h1M466 728h1M455 719h1M467 735h1M478 722h1M467 728h1M477 728h1M488 732h1M475 706h1M481 699h1M453 719h1M465 727h1M470 718h1M476 703h1M485 719h1M471 739h1M464 737h1M462 709h1M454 727h1M475 713h1M478 731h1M458 716h1M470 725h1M478 729h1M478 712h1M464 715h1M468 701h1M475 735h1M460 718h1M468 704h1M452 709h1M482 711h1M458 732h1M458 717h1M483 721h1M486 714h1M475 733h1M478 721h1M478 723h1M461 737h1M465 710h1M456 735h1M462 711h1M476 705h1M458 735h1M473 712h1M475 732h1M475 725h1M462 713h1M454 725h1M463 705h1M474 710h1M482 720h1M481 719h1M456 711h1M461 710h1M456 721h1M473 721h1M482 718h1M459 716h1M458 733h1M461 715h1M453 709h1M473 715h1M447 717h1M486 726h1M458 714h1M462 707h1M457 726h1M478 734h1M483 707h1M483 734h1M472 714h1M479 707h1M483 726h1M460 719h1M479 704h1M480 708h1M462 700h1M476 736h1M469 710h1M450 735h1M461 734h1M459 702h1M475 710h1M477 730h1M476 716h1M481 730h1M474 727h1M466 744h1M460 733h1M466 733h1M462 733h1M476 737h1M464 740h1M462 723h1M475 731h1M467 737h1M482 716h1M471 703h1M473 707h1M472 736h1M485 727h1M457 730h1M477 707h1M469 734h1M466 711h1M470 728h1M468 732h1M458 731h1M464 707h1M476 726h1M485 708h1M483 709h1M486 720h1M477 704h1M455 705h1M464 708h1M468 709h1M469 709h1M494 733h1M472 740h1M473 699h1M474 699h1M460 745h1M474 702h1M479 717h1M488 706h1M453 736h1M455 714h1M468 738h1M460 731h1M463 696h1M454 690h1M456 724h1M483 733h1M477 710h1M474 719h1M476 714h1M457 735h1M459 703h1M491 709h1M479 709h1M476 712h1M475 718h1M460 712h1M462 731h1M462 710h1M463 739h1M462 749h1M459 741h1M456 712h1M472 731h1M462 706h1M478 704h1M470 736h1M478 706h1M496 725h1M485 730h1M481 714h1M493 720h1M457 709h1M489 728h1M481 723h1M454 736h1M460 737h1M456 736h1M466 703h1M479 699h1M479 713h1M456 734h1M468 726h1M450 725h1M470 748h1M456 729h1M450 720h1M459 735h1M493 710h1M471 732h1M453 717h1M460 723h1M481 732h1M453 711h1M480 734h1M486 722h1M474 737h1M465 721h1M479 702h1M483 720h1M485 712h1M478 714h1M489 718h1M480 724h1M463 707h1M480 730h1M475 715h1M467 707h1M452 724h1M465 738h1M465 705h1M457 734h1M476 706h1M465 736h1M456 716h1M479 735h1M455 721h1M453 701h1M455 710h1M465 704h1M469 706h1M482 732h1M474 706h1M472 712h1M483 730h1M461 720h1M452 711h1M473 701h1M451 732h1M484 715h1M483 728h1M452 730h1M470 715h1M478 728h1M463 712h1M458 715h1M449 742h1M472 729h1M462 716h1M488 710h1M475 729h1M460 735h1M464 702h1M458 727h1M480 704h1M461 732h1M492 724h1M480 712h1M480 722h1M476 711h1M477 733h1M479 706h1M460 703h1M459 728h1M474 709h1M486 721h1M481 704h1M473 749h1M473 734h1M452 741h1M481 720h1M449 719h1M471 737h1M455 740h1M464 734h1M483 713h1M478 726h1M472 744h1M461 705h1M479 721h1M467 706h1M462 726h1M485 704h1M459 711h1M457 742h1M481 698h1M468 713h1M453 716h1M468 716h1M477 736h1M465 741h1M482 703h1M457 727h1M461 741h1M447 712h1M472 708h1M458 742h1M453 705h1M480 716h1M486 725h1M470 740h1M460 736h1M469 735h1M464 733h1M454 723h1M474 696h1M482 728h1M466 708h1M460 709h1M479 726h1M471 740h1M455 720h1M465 747h1M471 735h1M456 733h1M476 731h1M481 737h1M479 730h1M458 730h1M455 733h1M468 733h1M470 697h1M480 705h1M453 729h1M487 711h1M482 708h1M488 700h1M481 696h1M484 701h1M481 701h1M478 694h1M494 699h1M483 704h1M474 705h1M489 697h1M477 703h1M471 704h1M475 703h1M475 709h1M488 697h1M495 692h1M478 693h1M502 686h1M483 702h1M490 699h1M481 706h1M476 707h1M475 712h1M468 695h1M477 701h1M473 703h1M481 707h1M485 707h1M477 706h1M488 711h1M480 695h1M486 694h1M452 720h1M479 698h1M466 700h1M488 694h1M476 708h1M485 697h1M484 721h1M493 698h1M481 691h1M454 716h1M469 702h1M467 708h1M460 716h1M475 700h1M483 696h1M481 713h1M487 695h1M478 697h1M470 706h1M484 717h1M457 718h1M462 701h1M482 695h1M486 709h1M484 713h1M490 690h1M487 703h1M485 703h1M492 704h1M471 702h1M470 693h1M455 722h1M495 686h1M488 708h1M491 695h1M486 700h1M480 707h1M476 697h1M480 694h1M464 712h1M452 729h1M450 712h1M453 731h1M448 709h1M441 719h1M454 722h1M453 732h1M458 724h1M455 723h1M452 716h1M453 733h1M455 726h1M449 732h1M453 715h1M450 714h1M457 725h1M451 722h1M456 732h1M456 710h1M454 717h1M449 715h1M452 714h1M452 721h1M452 719h1M451 730h1M454 728h1M451 715h1M452 718h1M452 717h1M453 728h1M450 722h1M453 713h1M447 715h1M451 723h1M454 712h1M452 726h1M440 716h1M449 727h1M446 731h1M456 722h1M456 717h1M449 729h1M449 721h1M448 711h1M458 713h1M448 722h1M455 724h1M444 732h1M446 719h1M450 733h1M451 712h1M486 696h1M470 695h1M488 678h1M477 690h1M495 690h1M464 686h1M486 681h1M483 685h1M451 694h1M480 687h1M463 697h1" stroke="#000" stroke-width="1" stroke-opacity="0.9" fill="none" shape-rendering="crispEdges"/>
<rect x="417.5" y="659.8" width="95.1" height="90.0" fill="none" stroke="#222" stroke-width="1.0"/>
<path d="M418.5 749.8v2.6M417.5 748.8h-2.6M442.0 749.8v2.6M417.5 726.5h-2.6M465.6 749.8v2.6M417.5 704.3h-2.6M489.1 749.8v2.6M417.5 682.0h-2.6" stroke="#222" stroke-width="1" fill="none"/>
<path d="M425.6 749.8v1.3M417.5 742.1h-1.3M429.7 749.8v1.3M417.5 738.2h-1.3M432.7 749.8v1.3M417.5 735.4h-1.3M434.9 749.8v1.3M417.5 733.2h-1.3M436.8 749.8v1.3M417.5 731.5h-1.3M439.7 749.8v1.3M417.5 728.7h-1.3M449.1 749.8v1.3M417.5 719.9h-1.3M453.2 749.8v1.3M417.5 715.9h-1.3M456.2 749.8v1.3M417.5 713.2h-1.3M458.5 749.8v1.3M417.5 711.0h-1.3M460.3 749.8v1.3M417.5 709.2h-1.3M463.3 749.8v1.3M417.5 706.5h-1.3M472.6 749.8v1.3M417.5 697.6h-1.3M476.8 749.8v1.3M417.5 693.7h-1.3M479.7 749.8v1.3M417.5 690.9h-1.3M482.0 749.8v1.3M417.5 688.7h-1.3M483.9 749.8v1.3M417.5 687.0h-1.3M486.8 749.8v1.3M417.5 684.2h-1.3M496.2 749.8v1.3M417.5 675.4h-1.3M500.3 749.8v1.3M417.5 671.4h-1.3M503.2 749.8v1.3M417.5 668.7h-1.3M505.5 749.8v1.3M417.5 666.5h-1.3M507.4 749.8v1.3M417.5 664.7h-1.3M510.3 749.8v1.3M417.5 662.0h-1.3" stroke="#444" stroke-width="0.7" fill="none"/>
<line x1="450.2" y1="659.8" x2="450.2" y2="749.8" stroke="#111" stroke-width="1.9"/>
<line x1="417.5" y1="719.4" x2="512.6" y2="719.4" stroke="#111" stroke-width="1.4"/>
<text x="428.2" y="677.8" font-size="15" textLength="13.2" lengthAdjust="spacingAndGlyphs" stroke-width="0.12">11</text>
<text x="490.8" y="677.8" font-size="15" textLength="13.2" lengthAdjust="spacingAndGlyphs" stroke-width="0.12">31</text>
<text x="459.5" y="776.5" font-size="19" text-anchor="middle" textLength="45" lengthAdjust="spacingAndGlyphs">CD44</text>
<!-- Panel D -->
<text x="2.7" y="821.9" font-size="24" font-weight="bold" stroke-width="0.5" class="s" textLength="17.3" lengthAdjust="spacingAndGlyphs">D</text>
<line x1="50.7" y1="834.7" x2="246" y2="834.7" stroke="#8a8a8a" stroke-width="1.2"/>
<line x1="246" y1="834.7" x2="246" y2="957" stroke="#8a8a8a" stroke-width="1.2"/>
<line x1="50.7" y1="834.2" x2="50.7" y2="957" stroke="#111" stroke-width="1.3"/>
<line x1="50.7" y1="957" x2="246" y2="957" stroke="#111" stroke-width="1.5"/>
<line x1="47.2" y1="957.0" x2="50.7" y2="957.0" stroke="#111" stroke-width="1.1"/>
<text x="41.8" y="960.0" font-size="15" text-anchor="end" textLength="6.5" lengthAdjust="spacingAndGlyphs" stroke-width="0.12">0</text>
<line x1="47.2" y1="941.71" x2="50.7" y2="941.71" stroke="#111" stroke-width="1.1"/>
<text x="41.8" y="944.7" font-size="15" text-anchor="end" textLength="16.3" lengthAdjust="spacingAndGlyphs" stroke-width="0.12">0.5</text>
<line x1="47.2" y1="926.42" x2="50.7" y2="926.42" stroke="#111" stroke-width="1.1"/>
<text x="41.8" y="929.4" font-size="15" text-anchor="end" textLength="6.5" lengthAdjust="spacingAndGlyphs" stroke-width="0.12">1</text>
<line x1="47.2" y1="911.14" x2="50.7" y2="911.14" stroke="#111" stroke-width="1.1"/>
<text x="41.8" y="914.1" font-size="15" text-anchor="end" textLength="16.3" lengthAdjust="spacingAndGlyphs" stroke-width="0.12">1.5</text>
<line x1="47.2" y1="895.85" x2="50.7" y2="895.85" stroke="#111" stroke-width="1.1"/>
<text x="41.8" y="898.9" font-size="15" text-anchor="end" textLength="6.5" lengthAdjust="spacingAndGlyphs" stroke-width="0.12">2</text>
<line x1="47.2" y1="880.56" x2="50.7" y2="880.56" stroke="#111" stroke-width="1.1"/>
<text x="41.8" y="883.6" font-size="15" text-anchor="end" textLength="16.3" lengthAdjust="spacingAndGlyphs" stroke-width="0.12">2.5</text>
<line x1="47.2" y1="865.28" x2="50.7" y2="865.28" stroke="#111" stroke-width="1.1"/>
<text x="41.8" y="868.3" font-size="15" text-anchor="end" textLength="6.5" lengthAdjust="spacingAndGlyphs" stroke-width="0.12">3</text>
<line x1="47.2" y1="849.99" x2="50.7" y2="849.99" stroke="#111" stroke-width="1.1"/>
<text x="41.8" y="853.0" font-size="15" text-anchor="end" textLength="16.3" lengthAdjust="spacingAndGlyphs" stroke-width="0.12">3.5</text>
<line x1="47.2" y1="834.7" x2="50.7" y2="834.7" stroke="#111" stroke-width="1.1"/>
<text x="41.8" y="837.7" font-size="15" text-anchor="end" textLength="6.5" lengthAdjust="spacingAndGlyphs" stroke-width="0.12">4</text>
<line x1="74.8" y1="957" x2="74.8" y2="959.5" stroke="#111" stroke-width="1"/>
<line x1="99.2" y1="957" x2="99.2" y2="959.5" stroke="#111" stroke-width="1"/>
<line x1="123.5" y1="957" x2="123.5" y2="959.5" stroke="#111" stroke-width="1"/>
<line x1="147.8" y1="957" x2="147.8" y2="959.5" stroke="#111" stroke-width="1"/>
<line x1="172.2" y1="957" x2="172.2" y2="959.5" stroke="#111" stroke-width="1"/>
<line x1="196.5" y1="957" x2="196.5" y2="959.5" stroke="#111" stroke-width="1"/>
<line x1="220.9" y1="957" x2="220.9" y2="959.5" stroke="#111" stroke-width="1"/>
<line x1="245.2" y1="957" x2="245.2" y2="959.5" stroke="#111" stroke-width="1"/>
<polyline points="111.3,957.0 135.65,937.13 160.0,877.5 184.35,865.28 208.7,849.99 233.05,911.14" fill="none" stroke="#111" stroke-width="1.5" stroke-linejoin="round"/>
<polyline points="111.3,957.0 135.65,946.3 160.0,926.42 184.35,926.42 208.7,926.42 233.05,926.42" fill="none" stroke="#111" stroke-width="1.3" stroke-linejoin="round"/>
<circle cx="62.6" cy="957" r="1.9" fill="#000"/>
<circle cx="86.95" cy="957" r="1.9" fill="#000"/>
<circle cx="111.30000000000001" cy="957" r="1.9" fill="#000"/>
<circle cx="135.65" cy="957" r="1.9" fill="#000"/>
<circle cx="160.0" cy="957" r="1.9" fill="#000"/>
<circle cx="184.35" cy="957" r="1.9" fill="#000"/>
<circle cx="208.70000000000002" cy="957" r="1.9" fill="#000"/>
<circle cx="233.05" cy="957" r="1.9" fill="#000"/>
<polygon points="135.65,942.94 132.85,948.82 138.45,948.82" fill="#000" stroke="none" stroke-width="1"/>
<polygon points="160.0,923.06 157.2,928.94 162.8,928.94" fill="#000" stroke="none" stroke-width="1"/>
<polygon points="184.35,923.06 181.55,928.94 187.15,928.94" fill="#000" stroke="none" stroke-width="1"/>
<polygon points="208.7,923.06 205.9,928.94 211.5,928.94" fill="#000" stroke="none" stroke-width="1"/>
<polygon points="233.05,923.06 230.25,928.94 235.85,928.94" fill="#000" stroke="none" stroke-width="1"/>
<rect x="60.1" y="954.5" width="5" height="5" fill="#000"/>
<rect x="84.45" y="954.5" width="5" height="5" fill="#000"/>
<rect x="108.8" y="954.5" width="5" height="5" fill="#000"/>
<rect x="133.15" y="934.63" width="5" height="5" fill="#000"/>
<rect x="157.5" y="875.0" width="5" height="5" fill="#000"/>
<rect x="181.85" y="862.78" width="5" height="5" fill="#000"/>
<rect x="206.2" y="847.49" width="5" height="5" fill="#000"/>
<rect x="230.55" y="908.64" width="5" height="5" fill="#000"/>
<text x="155" y="872.7" font-size="25" text-anchor="middle">*</text>
<text x="176.5" y="862.6" font-size="25" text-anchor="middle">*</text>
<text x="196.7" y="852.4" font-size="25" text-anchor="middle">*</text>
<text x="65" y="980" font-size="15" text-anchor="middle" textLength="6.5" lengthAdjust="spacingAndGlyphs" stroke-width="0.5">0</text>
<text x="88.5" y="980" font-size="15" text-anchor="middle" textLength="6.5" lengthAdjust="spacingAndGlyphs" stroke-width="0.5">1</text>
<text x="112.7" y="980" font-size="15" text-anchor="middle" textLength="6.5" lengthAdjust="spacingAndGlyphs" stroke-width="0.5">2</text>
<text x="137" y="980" font-size="15" text-anchor="middle" textLength="6.5" lengthAdjust="spacingAndGlyphs" stroke-width="0.5">3</text>
<text x="161.7" y="980" font-size="15" text-anchor="middle" textLength="6.5" lengthAdjust="spacingAndGlyphs" stroke-width="0.5">4</text>
<text x="186" y="980" font-size="15" text-anchor="middle" textLength="6.5" lengthAdjust="spacingAndGlyphs" stroke-width="0.5">5</text>
<text x="209.8" y="980" font-size="15" text-anchor="middle" textLength="6.5" lengthAdjust="spacingAndGlyphs" stroke-width="0.5">6</text>
<text x="235" y="980" font-size="15" text-anchor="middle" textLength="6.5" lengthAdjust="spacingAndGlyphs" stroke-width="0.5">7</text>
<text x="153.7" y="1002.2" font-size="16.5" text-anchor="middle" textLength="137" lengthAdjust="spacingAndGlyphs">Weeks after infusion</text>
<text x="14.8" y="893" font-size="14.5" text-anchor="middle" textLength="116.5" lengthAdjust="spacingAndGlyphs" transform="rotate(-90 14.8 893)">Clinical GVHD Score</text>
<rect x="50.6" y="1017.5" width="196.6" height="121.7" fill="none" stroke="#111" stroke-width="1.3"/>
<line x1="47.1" y1="1139.2" x2="50.6" y2="1139.2" stroke="#111" stroke-width="1.1"/>
<text x="45.6" y="1142.2" font-size="14.5" text-anchor="end" textLength="6.7" lengthAdjust="spacingAndGlyphs" stroke-width="0.12">0</text>
<line x1="47.1" y1="1118.92" x2="50.6" y2="1118.92" stroke="#111" stroke-width="1.1"/>
<text x="45.6" y="1121.9" font-size="14.5" text-anchor="end" textLength="13.5" lengthAdjust="spacingAndGlyphs" stroke-width="0.12">20</text>
<line x1="47.1" y1="1098.63" x2="50.6" y2="1098.63" stroke="#111" stroke-width="1.1"/>
<text x="45.6" y="1101.6" font-size="14.5" text-anchor="end" textLength="13.5" lengthAdjust="spacingAndGlyphs" stroke-width="0.12">40</text>
<line x1="47.1" y1="1078.35" x2="50.6" y2="1078.35" stroke="#111" stroke-width="1.1"/>
<text x="45.6" y="1081.3" font-size="14.5" text-anchor="end" textLength="13.5" lengthAdjust="spacingAndGlyphs" stroke-width="0.12">60</text>
<line x1="47.1" y1="1058.07" x2="50.6" y2="1058.07" stroke="#111" stroke-width="1.1"/>
<text x="45.6" y="1061.1" font-size="14.5" text-anchor="end" textLength="13.5" lengthAdjust="spacingAndGlyphs" stroke-width="0.12">80</text>
<line x1="47.1" y1="1037.78" x2="50.6" y2="1037.78" stroke="#111" stroke-width="1.1"/>
<text x="45.6" y="1040.8" font-size="14.5" text-anchor="end" textLength="20.2" lengthAdjust="spacingAndGlyphs" stroke-width="0.12">100</text>
<line x1="47.1" y1="1017.5" x2="50.6" y2="1017.5" stroke="#111" stroke-width="1.1"/>
<text x="45.6" y="1020.5" font-size="14.5" text-anchor="end" textLength="20.2" lengthAdjust="spacingAndGlyphs" stroke-width="0.12">120</text>
<line x1="61.6" y1="1139.2" x2="61.6" y2="1141.7" stroke="#111" stroke-width="1"/>
<line x1="72.5" y1="1139.2" x2="72.5" y2="1141.7" stroke="#111" stroke-width="1"/>
<line x1="83.3" y1="1139.2" x2="83.3" y2="1141.7" stroke="#111" stroke-width="1"/>
<line x1="94.2" y1="1139.2" x2="94.2" y2="1141.7" stroke="#111" stroke-width="1"/>
<line x1="105.0" y1="1139.2" x2="105.0" y2="1141.7" stroke="#111" stroke-width="1"/>
<line x1="115.9" y1="1139.2" x2="115.9" y2="1141.7" stroke="#111" stroke-width="1"/>
<line x1="126.8" y1="1139.2" x2="126.8" y2="1141.7" stroke="#111" stroke-width="1"/>
<line x1="137.6" y1="1139.2" x2="137.6" y2="1141.7" stroke="#111" stroke-width="1"/>
<line x1="148.5" y1="1139.2" x2="148.5" y2="1141.7" stroke="#111" stroke-width="1"/>
<line x1="159.3" y1="1139.2" x2="159.3" y2="1141.7" stroke="#111" stroke-width="1"/>
<line x1="170.2" y1="1139.2" x2="170.2" y2="1141.7" stroke="#111" stroke-width="1"/>
<line x1="181.1" y1="1139.2" x2="181.1" y2="1141.7" stroke="#111" stroke-width="1"/>
<line x1="191.9" y1="1139.2" x2="191.9" y2="1141.7" stroke="#111" stroke-width="1"/>
<line x1="202.8" y1="1139.2" x2="202.8" y2="1141.7" stroke="#111" stroke-width="1"/>
<line x1="213.6" y1="1139.2" x2="213.6" y2="1141.7" stroke="#111" stroke-width="1"/>
<line x1="224.5" y1="1139.2" x2="224.5" y2="1141.7" stroke="#111" stroke-width="1"/>
<line x1="235.4" y1="1139.2" x2="235.4" y2="1141.7" stroke="#111" stroke-width="1"/>
<line x1="246.2" y1="1139.2" x2="246.2" y2="1141.7" stroke="#111" stroke-width="1"/>
<line x1="50.6" y1="1037.68" x2="247.2" y2="1037.68" stroke="#7d7d7d" stroke-width="3.6"/>
<polyline points="56.2,1037.38 67.06,1037.38 77.92,1037.38 88.78,1037.38 99.64,1037.38 110.5,1037.38 121.36,1037.38 132.22,1037.38 143.08,1037.38 153.94,1037.38 164.8,1037.38 175.66,1037.38 186.52,1037.38 197.38,1037.38 208.24,1037.38 219.1,1037.38 229.96,1037.38 240.82,1037.38" fill="none" stroke="#111" stroke-width="1.3" stroke-linejoin="round"/>
<polyline points="132.22,1037.38 143.08,1049.35 153.94,1060.61 164.8,1060.61 175.66,1060.61 186.52,1071.76 197.38,1082.82 208.24,1082.82 219.1,1082.82 229.96,1082.82 240.82,1082.82" fill="none" stroke="#111" stroke-width="1.5" stroke-linejoin="round"/>
<polygon points="56.2,1034.38 53.7,1039.63 58.7,1039.63" fill="#000" stroke="none" stroke-width="1"/>
<polygon points="67.06,1034.38 64.56,1039.63 69.56,1039.63" fill="#000" stroke="none" stroke-width="1"/>
<polygon points="77.92,1034.38 75.42,1039.63 80.42,1039.63" fill="#000" stroke="none" stroke-width="1"/>
<polygon points="88.78,1034.38 86.28,1039.63 91.28,1039.63" fill="#000" stroke="none" stroke-width="1"/>
<polygon points="99.64,1034.38 97.14,1039.63 102.14,1039.63" fill="#000" stroke="none" stroke-width="1"/>
<polygon points="110.5,1034.38 108.0,1039.63 113.0,1039.63" fill="#000" stroke="none" stroke-width="1"/>
<polygon points="121.36,1034.38 118.86,1039.63 123.86,1039.63" fill="#000" stroke="none" stroke-width="1"/>
<polygon points="132.22,1034.38 129.72,1039.63 134.72,1039.63" fill="#000" stroke="none" stroke-width="1"/>
<polygon points="143.08,1034.38 140.58,1039.63 145.58,1039.63" fill="#000" stroke="none" stroke-width="1"/>
<polygon points="153.94,1034.38 151.44,1039.63 156.44,1039.63" fill="#000" stroke="none" stroke-width="1"/>
<polygon points="164.8,1034.38 162.3,1039.63 167.3,1039.63" fill="#000" stroke="none" stroke-width="1"/>
<polygon points="175.66,1034.38 173.16,1039.63 178.16,1039.63" fill="#000" stroke="none" stroke-width="1"/>
<polygon points="186.52,1034.38 184.02,1039.63 189.02,1039.63" fill="#000" stroke="none" stroke-width="1"/>
<polygon points="197.38,1034.38 194.88,1039.63 199.88,1039.63" fill="#000" stroke="none" stroke-width="1"/>
<polygon points="208.24,1034.38 205.74,1039.63 210.74,1039.63" fill="#000" stroke="none" stroke-width="1"/>
<polygon points="219.1,1034.38 216.6,1039.63 221.6,1039.63" fill="#000" stroke="none" stroke-width="1"/>
<polygon points="229.96,1034.38 227.46,1039.63 232.46,1039.63" fill="#000" stroke="none" stroke-width="1"/>
<polygon points="240.82,1034.38 238.32,1039.63 243.32,1039.63" fill="#000" stroke="none" stroke-width="1"/>
<rect x="54.0" y="1035.18" width="4.4" height="4.4" fill="#000"/>
<rect x="64.86" y="1035.18" width="4.4" height="4.4" fill="#000"/>
<rect x="75.72" y="1035.18" width="4.4" height="4.4" fill="#000"/>
<rect x="86.58" y="1035.18" width="4.4" height="4.4" fill="#000"/>
<rect x="97.44" y="1035.18" width="4.4" height="4.4" fill="#000"/>
<rect x="108.3" y="1035.18" width="4.4" height="4.4" fill="#000"/>
<rect x="119.16" y="1035.18" width="4.4" height="4.4" fill="#000"/>
<rect x="130.02" y="1035.18" width="4.4" height="4.4" fill="#000"/>
<rect x="140.88" y="1047.15" width="4.4" height="4.4" fill="#000"/>
<rect x="151.74" y="1058.41" width="4.4" height="4.4" fill="#000"/>
<rect x="162.6" y="1058.41" width="4.4" height="4.4" fill="#000"/>
<rect x="173.46" y="1058.41" width="4.4" height="4.4" fill="#000"/>
<rect x="184.32" y="1069.56" width="4.4" height="4.4" fill="#000"/>
<rect x="195.18" y="1080.62" width="4.4" height="4.4" fill="#000"/>
<rect x="206.04" y="1080.62" width="4.4" height="4.4" fill="#000"/>
<rect x="216.9" y="1080.62" width="4.4" height="4.4" fill="#000"/>
<rect x="227.76" y="1080.62" width="4.4" height="4.4" fill="#000"/>
<rect x="238.62" y="1080.62" width="4.4" height="4.4" fill="#000"/>
<text x="214.8" y="1079.7" font-size="25" text-anchor="middle">*</text>
<text x="70.2" y="1161.3" font-size="15" text-anchor="middle" textLength="6.5" lengthAdjust="spacingAndGlyphs" stroke-width="0.12">0</text>
<text x="86" y="1161.3" font-size="15" text-anchor="middle" textLength="6.5" lengthAdjust="spacingAndGlyphs" stroke-width="0.12">5</text>
<text x="106.7" y="1161.3" font-size="15" text-anchor="middle" textLength="13.1" lengthAdjust="spacingAndGlyphs" stroke-width="0.12">12</text>
<text x="126.7" y="1161.3" font-size="15" text-anchor="middle" textLength="13.1" lengthAdjust="spacingAndGlyphs" stroke-width="0.12">18</text>
<text x="146" y="1161.3" font-size="15" text-anchor="middle" textLength="13.1" lengthAdjust="spacingAndGlyphs" stroke-width="0.12">26</text>
<text x="169.9" y="1161.3" font-size="15" text-anchor="middle" textLength="13.1" lengthAdjust="spacingAndGlyphs" stroke-width="0.12">33</text>
<text x="193.1" y="1161.3" font-size="15" text-anchor="middle" textLength="13.1" lengthAdjust="spacingAndGlyphs" stroke-width="0.12">42</text>
<text x="212.7" y="1161.3" font-size="15" text-anchor="middle" textLength="13.1" lengthAdjust="spacingAndGlyphs" stroke-width="0.12">46</text>
<text x="236" y="1161.3" font-size="15" text-anchor="middle" textLength="13.1" lengthAdjust="spacingAndGlyphs" stroke-width="0.12">60</text>
<text x="146" y="1181.7" font-size="16.5" text-anchor="middle" textLength="196.7" lengthAdjust="spacingAndGlyphs">Days after the transplantation</text>
<text x="14.8" y="1068.5" font-size="14" text-anchor="middle" textLength="113" lengthAdjust="spacingAndGlyphs" stroke-width="0.12" transform="rotate(-90 14.8 1068.5)">Survival animals (%)</text>
<!-- Panel E -->
<text x="276" y="822.5" font-size="24" font-weight="bold" stroke-width="0.5" class="s" textLength="15" lengthAdjust="spacingAndGlyphs">E</text>
<rect x="316.2" y="836.7" width="195.0" height="121.2" fill="none" stroke="#111" stroke-width="1.3"/>
<line x1="316.2" y1="957.9" x2="511.2" y2="957.9" stroke="#111" stroke-width="1.8"/>
<line x1="312.7" y1="957.9" x2="316.2" y2="957.9" stroke="#111" stroke-width="1.1"/>
<text x="311" y="961.2" font-size="14.5" text-anchor="end" textLength="6.7" lengthAdjust="spacingAndGlyphs" stroke-width="0.12">0</text>
<line x1="312.7" y1="937.7" x2="316.2" y2="937.7" stroke="#111" stroke-width="1.1"/>
<text x="311" y="941.0" font-size="14.5" text-anchor="end" textLength="6.7" lengthAdjust="spacingAndGlyphs" stroke-width="0.12">2</text>
<line x1="312.7" y1="917.5" x2="316.2" y2="917.5" stroke="#111" stroke-width="1.1"/>
<text x="311" y="920.8" font-size="14.5" text-anchor="end" textLength="6.7" lengthAdjust="spacingAndGlyphs" stroke-width="0.12">4</text>
<line x1="312.7" y1="897.3" x2="316.2" y2="897.3" stroke="#111" stroke-width="1.1"/>
<text x="311" y="900.6" font-size="14.5" text-anchor="end" textLength="6.7" lengthAdjust="spacingAndGlyphs" stroke-width="0.12">6</text>
<line x1="312.7" y1="877.1" x2="316.2" y2="877.1" stroke="#111" stroke-width="1.1"/>
<text x="311" y="880.4" font-size="14.5" text-anchor="end" textLength="6.7" lengthAdjust="spacingAndGlyphs" stroke-width="0.12">8</text>
<line x1="312.7" y1="856.9" x2="316.2" y2="856.9" stroke="#111" stroke-width="1.1"/>
<text x="311" y="860.2" font-size="14.5" text-anchor="end" textLength="13.3" lengthAdjust="spacingAndGlyphs" stroke-width="0.12">10</text>
<line x1="312.7" y1="836.7" x2="316.2" y2="836.7" stroke="#111" stroke-width="1.1"/>
<text x="311" y="840.0" font-size="14.5" text-anchor="end" textLength="13.3" lengthAdjust="spacingAndGlyphs" stroke-width="0.12">12</text>
<line x1="340.4" y1="957.9" x2="340.4" y2="960.4" stroke="#111" stroke-width="1"/>
<line x1="364.8" y1="957.9" x2="364.8" y2="960.4" stroke="#111" stroke-width="1"/>
<line x1="389.1" y1="957.9" x2="389.1" y2="960.4" stroke="#111" stroke-width="1"/>
<line x1="413.5" y1="957.9" x2="413.5" y2="960.4" stroke="#111" stroke-width="1"/>
<line x1="437.9" y1="957.9" x2="437.9" y2="960.4" stroke="#111" stroke-width="1"/>
<line x1="462.2" y1="957.9" x2="462.2" y2="960.4" stroke="#111" stroke-width="1"/>
<line x1="486.6" y1="957.9" x2="486.6" y2="960.4" stroke="#111" stroke-width="1"/>
<line x1="511.0" y1="957.9" x2="511.0" y2="960.4" stroke="#111" stroke-width="1"/>
<polyline points="352.57,957.9 376.94,927.8 401.31,895.89 425.68,869.53 450.05,859.22 474.42,859.22 498.79,871.85" fill="none" stroke="#111" stroke-width="1.5" stroke-linejoin="round"/>
<polyline points="352.57,957.9 376.94,937.8 401.31,920.73 425.68,889.62 450.05,877.61 474.42,887.6 498.79,883.16" fill="none" stroke="#111" stroke-width="1.4" stroke-linejoin="round"/>
<circle cx="328.2" cy="957.9" r="1.9" fill="#000"/>
<circle cx="352.57" cy="957.9" r="1.9" fill="#000"/>
<circle cx="376.94" cy="957.9" r="1.9" fill="#000"/>
<circle cx="401.31" cy="957.9" r="1.9" fill="#000"/>
<circle cx="425.68" cy="957.9" r="1.9" fill="#000"/>
<circle cx="450.05" cy="957.9" r="1.9" fill="#000"/>
<circle cx="474.41999999999996" cy="957.9" r="1.9" fill="#000"/>
<circle cx="498.78999999999996" cy="957.9" r="1.9" fill="#000"/>
<polygon points="376.94,934.2 373.94,940.5 379.94,940.5" fill="#000" stroke="none" stroke-width="1"/>
<polygon points="401.31,917.13 398.31,923.43 404.31,923.43" fill="#000" stroke="none" stroke-width="1"/>
<polygon points="425.68,886.02 422.68,892.32 428.68,892.32" fill="#000" stroke="none" stroke-width="1"/>
<polygon points="450.05,874.01 447.05,880.31 453.05,880.31" fill="#000" stroke="none" stroke-width="1"/>
<polygon points="474.42,884.0 471.42,890.3 477.42,890.3" fill="#000" stroke="none" stroke-width="1"/>
<polygon points="498.79,879.56 495.79,885.86 501.79,885.86" fill="#000" stroke="none" stroke-width="1"/>
<rect x="325.3" y="955.0" width="5.8" height="5.8" fill="#000"/>
<rect x="349.67" y="955.0" width="5.8" height="5.8" fill="#000"/>
<rect x="374.04" y="924.9" width="5.8" height="5.8" fill="#000"/>
<rect x="398.41" y="892.99" width="5.8" height="5.8" fill="#000"/>
<rect x="422.78" y="866.63" width="5.8" height="5.8" fill="#000"/>
<rect x="447.15" y="856.32" width="5.8" height="5.8" fill="#000"/>
<rect x="471.52" y="856.32" width="5.8" height="5.8" fill="#000"/>
<rect x="495.89" y="868.95" width="5.8" height="5.8" fill="#000"/>
<text x="330" y="980.5" font-size="15" text-anchor="middle" textLength="6.5" lengthAdjust="spacingAndGlyphs" stroke-width="0.12">0</text>
<text x="355" y="980.5" font-size="15" text-anchor="middle" textLength="6.5" lengthAdjust="spacingAndGlyphs" stroke-width="0.12">1</text>
<text x="379.3" y="980.5" font-size="15" text-anchor="middle" textLength="6.5" lengthAdjust="spacingAndGlyphs" stroke-width="0.12">2</text>
<text x="403.7" y="980.5" font-size="15" text-anchor="middle" textLength="6.5" lengthAdjust="spacingAndGlyphs" stroke-width="0.12">3</text>
<text x="427.5" y="980.5" font-size="15" text-anchor="middle" textLength="6.5" lengthAdjust="spacingAndGlyphs" stroke-width="0.12">4</text>
<text x="451.3" y="980.5" font-size="15" text-anchor="middle" textLength="6.5" lengthAdjust="spacingAndGlyphs" stroke-width="0.12">5</text>
<text x="476.2" y="980.5" font-size="15" text-anchor="middle" textLength="6.5" lengthAdjust="spacingAndGlyphs" stroke-width="0.12">6</text>
<text x="500.7" y="980.5" font-size="15" text-anchor="middle" textLength="6.5" lengthAdjust="spacingAndGlyphs" stroke-width="0.12">7</text>
<text x="419.4" y="998.8" font-size="16.5" text-anchor="middle" textLength="136.3" lengthAdjust="spacingAndGlyphs">Weeks after infusion</text>
<text x="291.4" y="896.2" font-size="14" text-anchor="middle" textLength="117.5" lengthAdjust="spacingAndGlyphs" stroke-width="0.12" transform="rotate(-90 291.4 896.2)">Clinical GVHD Score</text>
<path d="M321.2 1013.4H514.2V1132.4" fill="none" stroke="#555" stroke-width="1.2"/>
<path d="M321.2 1013.4V1132.4H514.2" fill="none" stroke="#111" stroke-width="1.3"/>
<line x1="319.2" y1="1132.4" x2="321.2" y2="1132.4" stroke="#111" stroke-width="1.1"/>
<text x="312.2" y="1135.3" font-size="14.5" text-anchor="end" textLength="6.7" lengthAdjust="spacingAndGlyphs" stroke-width="0.12">0</text>
<line x1="319.2" y1="1112.5666666666666" x2="321.2" y2="1112.5666666666666" stroke="#111" stroke-width="1.1"/>
<text x="312.2" y="1115.4" font-size="14.5" text-anchor="end" textLength="13.3" lengthAdjust="spacingAndGlyphs" stroke-width="0.12">20</text>
<line x1="319.2" y1="1092.7333333333333" x2="321.2" y2="1092.7333333333333" stroke="#111" stroke-width="1.1"/>
<text x="312.2" y="1095.6" font-size="14.5" text-anchor="end" textLength="13.3" lengthAdjust="spacingAndGlyphs" stroke-width="0.12">40</text>
<line x1="319.2" y1="1072.9" x2="321.2" y2="1072.9" stroke="#111" stroke-width="1.1"/>
<text x="312.2" y="1075.8" font-size="14.5" text-anchor="end" textLength="13.3" lengthAdjust="spacingAndGlyphs" stroke-width="0.12">60</text>
<line x1="319.2" y1="1053.0666666666666" x2="321.2" y2="1053.0666666666666" stroke="#111" stroke-width="1.1"/>
<text x="312.2" y="1055.9" font-size="14.5" text-anchor="end" textLength="13.3" lengthAdjust="spacingAndGlyphs" stroke-width="0.12">80</text>
<line x1="319.2" y1="1033.2333333333333" x2="321.2" y2="1033.2333333333333" stroke="#111" stroke-width="1.1"/>
<text x="312.2" y="1036.0" font-size="14.5" text-anchor="end" textLength="20.0" lengthAdjust="spacingAndGlyphs" stroke-width="0.12">100</text>
<line x1="319.2" y1="1013.4" x2="321.2" y2="1013.4" stroke="#111" stroke-width="1.1"/>
<text x="312.2" y="1016.2" font-size="14.5" text-anchor="end" textLength="20.0" lengthAdjust="spacingAndGlyphs" stroke-width="0.12">120</text>
<line x1="330.1" y1="1132.4" x2="330.1" y2="1134.7" stroke="#111" stroke-width="1"/>
<line x1="339.3" y1="1132.4" x2="339.3" y2="1134.7" stroke="#111" stroke-width="1"/>
<line x1="348.5" y1="1132.4" x2="348.5" y2="1134.7" stroke="#111" stroke-width="1"/>
<line x1="357.7" y1="1132.4" x2="357.7" y2="1134.7" stroke="#111" stroke-width="1"/>
<line x1="366.9" y1="1132.4" x2="366.9" y2="1134.7" stroke="#111" stroke-width="1"/>
<line x1="376.2" y1="1132.4" x2="376.2" y2="1134.7" stroke="#111" stroke-width="1"/>
<line x1="385.4" y1="1132.4" x2="385.4" y2="1134.7" stroke="#111" stroke-width="1"/>
<line x1="394.6" y1="1132.4" x2="394.6" y2="1134.7" stroke="#111" stroke-width="1"/>
<line x1="403.8" y1="1132.4" x2="403.8" y2="1134.7" stroke="#111" stroke-width="1"/>
<line x1="413.0" y1="1132.4" x2="413.0" y2="1134.7" stroke="#111" stroke-width="1"/>
<line x1="422.2" y1="1132.4" x2="422.2" y2="1134.7" stroke="#111" stroke-width="1"/>
<line x1="431.4" y1="1132.4" x2="431.4" y2="1134.7" stroke="#111" stroke-width="1"/>
<line x1="440.6" y1="1132.4" x2="440.6" y2="1134.7" stroke="#111" stroke-width="1"/>
<line x1="449.8" y1="1132.4" x2="449.8" y2="1134.7" stroke="#111" stroke-width="1"/>
<line x1="459.0" y1="1132.4" x2="459.0" y2="1134.7" stroke="#111" stroke-width="1"/>
<line x1="468.2" y1="1132.4" x2="468.2" y2="1134.7" stroke="#111" stroke-width="1"/>
<line x1="477.5" y1="1132.4" x2="477.5" y2="1134.7" stroke="#111" stroke-width="1"/>
<line x1="486.7" y1="1132.4" x2="486.7" y2="1134.7" stroke="#111" stroke-width="1"/>
<line x1="495.9" y1="1132.4" x2="495.9" y2="1134.7" stroke="#111" stroke-width="1"/>
<line x1="505.1" y1="1132.4" x2="505.1" y2="1134.7" stroke="#111" stroke-width="1"/>
<polyline points="325.5,1031.55 334.71,1031.55 343.92,1031.55 353.13,1031.55 362.34,1031.55 371.55,1031.55 380.76,1031.55 389.97,1031.55 399.18,1031.55 408.39,1031.55 417.6,1031.55 426.81,1031.55 436.02,1031.55 445.23,1031.55 454.44,1031.55 463.65,1031.55 472.86,1031.55 482.07,1031.55 491.28,1031.55 500.49,1031.55 509.7,1031.55" fill="none" stroke="#111" stroke-width="1.4" stroke-linejoin="round"/>
<polyline points="325.5,1032.55 334.71,1032.55 343.92,1032.55 353.13,1032.55 362.34,1032.55 371.55,1032.55 380.76,1039.58 389.97,1039.58 399.18,1039.58 408.39,1052.63 417.6,1052.63 426.81,1064.68 436.02,1064.68 445.23,1064.68 454.44,1082.75 463.65,1082.75 472.86,1082.75 482.07,1082.75 491.28,1107.85 500.49,1114.88 509.7,1120.9" fill="none" stroke="#111" stroke-width="1.3" stroke-linejoin="round"/>
<polyline points="325.5,1033.25 334.71,1033.25 343.92,1033.25 353.13,1033.25 362.34,1033.25 371.55,1033.25 380.76,1033.25 389.97,1033.25 399.18,1052.63 408.39,1052.63 417.6,1052.63 426.81,1052.63 436.02,1082.75 445.23,1092.79 454.44,1092.79 463.65,1092.79 472.86,1092.79 482.07,1092.79 491.28,1122.91 500.49,1122.91 509.7,1122.91" fill="none" stroke="#111" stroke-width="1.5" stroke-linejoin="round"/>
<circle cx="325.5" cy="1031.55" r="1.8" fill="#000"/>
<circle cx="334.71" cy="1031.55" r="1.8" fill="#000"/>
<circle cx="343.92" cy="1031.55" r="1.8" fill="#000"/>
<circle cx="353.13" cy="1031.55" r="1.8" fill="#000"/>
<circle cx="362.34000000000003" cy="1031.55" r="1.8" fill="#000"/>
<circle cx="371.55" cy="1031.55" r="1.8" fill="#000"/>
<circle cx="380.76" cy="1031.55" r="1.8" fill="#000"/>
<circle cx="389.97" cy="1031.55" r="1.8" fill="#000"/>
<circle cx="399.18" cy="1031.55" r="1.8" fill="#000"/>
<circle cx="408.39" cy="1031.55" r="1.8" fill="#000"/>
<circle cx="417.6" cy="1031.55" r="1.8" fill="#000"/>
<circle cx="426.81" cy="1031.55" r="1.8" fill="#000"/>
<circle cx="436.02" cy="1031.55" r="1.8" fill="#000"/>
<circle cx="445.23" cy="1031.55" r="1.8" fill="#000"/>
<circle cx="454.44" cy="1031.55" r="1.8" fill="#000"/>
<circle cx="463.65" cy="1031.55" r="1.8" fill="#000"/>
<circle cx="472.86" cy="1031.55" r="1.8" fill="#000"/>
<circle cx="482.07000000000005" cy="1031.55" r="1.8" fill="#000"/>
<circle cx="491.28000000000003" cy="1031.55" r="1.8" fill="#000"/>
<circle cx="500.49" cy="1031.55" r="1.8" fill="#000"/>
<circle cx="509.70000000000005" cy="1031.55" r="1.8" fill="#000"/>
<polygon points="325.5,1029.55 323.0,1034.8 328.0,1034.8" fill="#000" stroke="none" stroke-width="1"/>
<polygon points="334.71,1029.55 332.21,1034.8 337.21,1034.8" fill="#000" stroke="none" stroke-width="1"/>
<polygon points="343.92,1029.55 341.42,1034.8 346.42,1034.8" fill="#000" stroke="none" stroke-width="1"/>
<polygon points="353.13,1029.55 350.63,1034.8 355.63,1034.8" fill="#000" stroke="none" stroke-width="1"/>
<polygon points="362.34,1029.55 359.84,1034.8 364.84,1034.8" fill="#000" stroke="none" stroke-width="1"/>
<polygon points="371.55,1029.55 369.05,1034.8 374.05,1034.8" fill="#000" stroke="none" stroke-width="1"/>
<polygon points="380.76,1036.58 378.26,1041.83 383.26,1041.83" fill="#000" stroke="none" stroke-width="1"/>
<polygon points="389.97,1036.58 387.47,1041.83 392.47,1041.83" fill="#000" stroke="none" stroke-width="1"/>
<polygon points="399.18,1036.58 396.68,1041.83 401.68,1041.83" fill="#000" stroke="none" stroke-width="1"/>
<polygon points="408.39,1049.63 405.89,1054.88 410.89,1054.88" fill="#000" stroke="none" stroke-width="1"/>
<polygon points="417.6,1049.63 415.1,1054.88 420.1,1054.88" fill="#000" stroke="none" stroke-width="1"/>
<polygon points="426.81,1061.68 424.31,1066.93 429.31,1066.93" fill="#000" stroke="none" stroke-width="1"/>
<polygon points="436.02,1061.68 433.52,1066.93 438.52,1066.93" fill="#000" stroke="none" stroke-width="1"/>
<polygon points="445.23,1061.68 442.73,1066.93 447.73,1066.93" fill="#000" stroke="none" stroke-width="1"/>
<polygon points="454.44,1079.75 451.94,1085.0 456.94,1085.0" fill="#000" stroke="none" stroke-width="1"/>
<polygon points="463.65,1079.75 461.15,1085.0 466.15,1085.0" fill="#000" stroke="none" stroke-width="1"/>
<polygon points="472.86,1079.75 470.36,1085.0 475.36,1085.0" fill="#000" stroke="none" stroke-width="1"/>
<polygon points="482.07,1079.75 479.57,1085.0 484.57,1085.0" fill="#000" stroke="none" stroke-width="1"/>
<polygon points="491.28,1104.85 488.78,1110.1 493.78,1110.1" fill="#000" stroke="none" stroke-width="1"/>
<polygon points="500.49,1111.88 497.99,1117.13 502.99,1117.13" fill="#000" stroke="none" stroke-width="1"/>
<polygon points="509.7,1117.9 507.2,1123.15 512.2,1123.15" fill="#000" stroke="none" stroke-width="1"/>
<rect x="322.9" y="1030.65" width="5.2" height="5.2" fill="#000"/>
<rect x="332.11" y="1030.65" width="5.2" height="5.2" fill="#000"/>
<rect x="341.32" y="1030.65" width="5.2" height="5.2" fill="#000"/>
<rect x="350.53" y="1030.65" width="5.2" height="5.2" fill="#000"/>
<rect x="359.74" y="1030.65" width="5.2" height="5.2" fill="#000"/>
<rect x="368.95" y="1030.65" width="5.2" height="5.2" fill="#000"/>
<rect x="378.16" y="1030.65" width="5.2" height="5.2" fill="#000"/>
<rect x="387.37" y="1030.65" width="5.2" height="5.2" fill="#000"/>
<rect x="396.58" y="1050.03" width="5.2" height="5.2" fill="#000"/>
<rect x="405.79" y="1050.03" width="5.2" height="5.2" fill="#000"/>
<rect x="415.0" y="1050.03" width="5.2" height="5.2" fill="#000"/>
<rect x="424.21" y="1050.03" width="5.2" height="5.2" fill="#000"/>
<rect x="433.42" y="1080.15" width="5.2" height="5.2" fill="#000"/>
<rect x="442.63" y="1090.19" width="5.2" height="5.2" fill="#000"/>
<rect x="451.84" y="1090.19" width="5.2" height="5.2" fill="#000"/>
<rect x="461.05" y="1090.19" width="5.2" height="5.2" fill="#000"/>
<rect x="470.26" y="1090.19" width="5.2" height="5.2" fill="#000"/>
<rect x="479.47" y="1090.19" width="5.2" height="5.2" fill="#000"/>
<rect x="488.68" y="1120.31" width="5.2" height="5.2" fill="#000"/>
<rect x="497.89" y="1120.31" width="5.2" height="5.2" fill="#000"/>
<rect x="507.1" y="1120.31" width="5.2" height="5.2" fill="#000"/>
<text x="330.7" y="1157" font-size="15" text-anchor="middle" textLength="6.5" lengthAdjust="spacingAndGlyphs" stroke-width="0.12">0</text>
<text x="347" y="1157" font-size="15" text-anchor="middle" textLength="6.5" lengthAdjust="spacingAndGlyphs" stroke-width="0.12">5</text>
<text x="367.5" y="1157" font-size="15" text-anchor="middle" textLength="13.1" lengthAdjust="spacingAndGlyphs" stroke-width="0.12">12</text>
<text x="386.3" y="1157" font-size="15" text-anchor="middle" textLength="13.1" lengthAdjust="spacingAndGlyphs" stroke-width="0.12">18</text>
<text x="407.5" y="1157" font-size="15" text-anchor="middle" textLength="13.1" lengthAdjust="spacingAndGlyphs" stroke-width="0.12">26</text>
<text x="430.7" y="1157" font-size="15" text-anchor="middle" textLength="13.1" lengthAdjust="spacingAndGlyphs" stroke-width="0.12">33</text>
<text x="454.2" y="1157" font-size="15" text-anchor="middle" textLength="13.1" lengthAdjust="spacingAndGlyphs" stroke-width="0.12">42</text>
<text x="473.7" y="1157" font-size="15" text-anchor="middle" textLength="13.1" lengthAdjust="spacingAndGlyphs" stroke-width="0.12">46</text>
<text x="497.5" y="1157" font-size="15" text-anchor="middle" textLength="13.1" lengthAdjust="spacingAndGlyphs" stroke-width="0.12">60</text>
<text x="421.1" y="1178.8" font-size="16.5" text-anchor="middle" textLength="196.2" lengthAdjust="spacingAndGlyphs">Days after the transplantation</text>
<text x="286.6" y="1065.2" font-size="14" text-anchor="middle" textLength="113.7" lengthAdjust="spacingAndGlyphs" stroke-width="0.12" transform="rotate(-90 286.6 1065.2)">Survival animals (%)</text>
</g></svg></body></html>
